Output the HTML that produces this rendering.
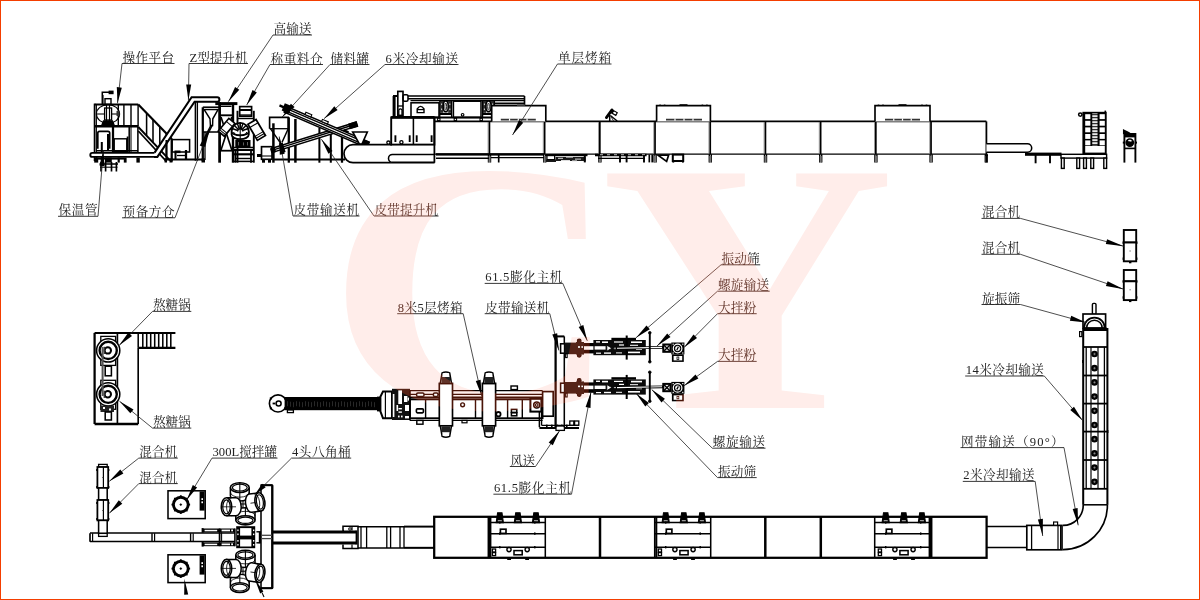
<!DOCTYPE html>
<html lang="zh"><head><meta charset="utf-8"><title>生产线布局图</title>
<style>
html,body{margin:0;padding:0;background:#fff;}
body{width:1200px;height:600px;overflow:hidden;position:relative;}
#frame{position:absolute;left:0;top:0;width:1198px;height:598px;border:1px solid #f43e00;}
svg{position:absolute;left:0;top:0;}
svg text{font-family:"Liberation Serif","Noto Serif CJK SC",serif;fill:#222;}
.wm{font-family:"Liberation Serif",serif;font-weight:bold;font-size:358px;}
</style></head><body>
<svg width="1200" height="600" viewBox="0 0 1200 600">
<g id="wm-under" transform="scale(1.14,1)"><text class="wm" x="286.1" y="408" dx="0 -18.2" style="fill:#ffece9">CY</text></g>
<g id="machines" shape-rendering="auto">
<line x1="94.6" y1="104.4" x2="138.3" y2="104.4" stroke="#000" stroke-width="2.02"/>
<line x1="94.6" y1="103.6" x2="94.6" y2="161" stroke="#000" stroke-width="1.78"/>
<line x1="96.4" y1="104.4" x2="96.4" y2="160" stroke="#000" stroke-width="1.06"/>
<line x1="94.6" y1="126.3" x2="138.3" y2="126.3" stroke="#000" stroke-width="2.5"/>
<line x1="118.3" y1="104.4" x2="118.3" y2="126.3" stroke="#000" stroke-width="1.42"/>
<line x1="123.9" y1="104.4" x2="123.9" y2="126.3" stroke="#000" stroke-width="1.42"/>
<line x1="131" y1="104.4" x2="131" y2="126.3" stroke="#000" stroke-width="1.42"/>
<line x1="138.1" y1="104.4" x2="138.1" y2="126.3" stroke="#000" stroke-width="1.42"/>
<line x1="113" y1="126.3" x2="113" y2="153" stroke="#000" stroke-width="2.26"/>
<line x1="129.2" y1="126.3" x2="129.2" y2="153" stroke="#000" stroke-width="1.54"/>
<line x1="131" y1="126.3" x2="131" y2="153" stroke="#000" stroke-width="1.06"/>
<line x1="137.9" y1="126.3" x2="137.9" y2="153" stroke="#000" stroke-width="1.54"/>
<line x1="138.3" y1="104.6" x2="172" y2="139.31099999999998" stroke="#000" stroke-width="2.14"/>
<line x1="138.3" y1="127" x2="170" y2="160.285" stroke="#000" stroke-width="1.9"/>
<line x1="138.3" y1="131" x2="166.6" y2="161.564" stroke="#000" stroke-width="1.66"/>
<line x1="146.6" y1="113.14899999999997" x2="146.6" y2="135.71499999999997" stroke="#000" stroke-width="1.54"/>
<line x1="153" y1="119.74099999999999" x2="153" y2="142.435" stroke="#000" stroke-width="1.54"/>
<line x1="159.8" y1="126.74499999999999" x2="159.8" y2="149.575" stroke="#000" stroke-width="1.54"/>
<line x1="166.4" y1="133.54299999999998" x2="166.4" y2="156.505" stroke="#000" stroke-width="1.54"/>
<line x1="171.7" y1="139" x2="171.7" y2="161.5" stroke="#000" stroke-width="2.26"/>
<ellipse cx="108" cy="114" rx="11.6" ry="9.4" fill="none" stroke="#000" stroke-width="1.1"/>
<line x1="96.5" y1="114" x2="119.5" y2="114" stroke="#000" stroke-width="1.06"/>
<rect x="104.6" y="108" width="7" height="12" fill="#fff" stroke="#000" stroke-width="1.3"/>
<line x1="106.5" y1="104.4" x2="106.5" y2="122" stroke="#000" stroke-width="1.18"/>
<line x1="109.5" y1="104.4" x2="109.5" y2="122" stroke="#000" stroke-width="1.18"/>
<rect x="105" y="98.7" width="6" height="5.7" fill="none" stroke="#000" stroke-width="1.42"/>
<path d="M103.5,121 L112.5,121 L114.5,126 L101.5,126 Z" fill="#000" stroke="#000" stroke-width="1.3" />
<rect x="116.5" y="111" width="3" height="5" fill="#333"/>
<polyline points="102.3,104.4 102.3,92.3 109,92.3" fill="none" stroke="#000" stroke-width="1.54"/>
<rect x="108.6" y="90.6" width="5" height="3.6" fill="#000"/>
<line x1="103.2" y1="95" x2="103.2" y2="104" stroke="#000" stroke-width="0.82"/>
<path d="M97.8,148.7 L97.8,133 Q97.8,131.3 99.5,131.3 L108,131.3 Q109.7,131.3 109.7,133 L109.7,148.7" fill="none" stroke="#000" stroke-width="1.66" />
<line x1="108" y1="134" x2="108" y2="150" stroke="#000" stroke-width="2.02"/>
<line x1="101.8" y1="142" x2="101.8" y2="160" stroke="#000" stroke-width="2.02"/>
<rect x="114.2" y="138.8" width="12.6" height="12.6" fill="none" stroke="#000" stroke-width="1.42"/>
<line x1="127.6" y1="136.5" x2="127.6" y2="152" stroke="#000" stroke-width="1.78"/>
<line x1="96" y1="150.8" x2="138" y2="150.8" stroke="#000" stroke-width="1.54"/>
<path d="M155.3,152.9 L92.3,152.9 A2,2 0 0 0 92.3,156.9 L155,156.9" fill="#fff" stroke="#000" stroke-width="1.9" />
<rect x="94.2" y="157.6" width="4" height="5" fill="#000"/>
<rect x="100.8" y="157.6" width="3" height="5" fill="#000"/>
<rect x="105" y="157.6" width="6.8" height="5" fill="#000"/>
<rect x="117.6" y="157.6" width="2.2" height="5" fill="#000"/>
<rect x="123.8" y="157.6" width="2.8" height="5" fill="#000"/>
<rect x="136.4" y="157.6" width="3.4" height="5" fill="#000"/>
<line x1="97" y1="158.6" x2="124" y2="158.6" stroke="#000" stroke-width="2.02"/>
<line x1="101" y1="162" x2="101" y2="171.5" stroke="#000" stroke-width="1.66"/>
<line x1="105.6" y1="162" x2="105.6" y2="171.5" stroke="#000" stroke-width="1.66"/>
<line x1="111.5" y1="162" x2="111.5" y2="171.5" stroke="#000" stroke-width="1.66"/>
<line x1="116.4" y1="162" x2="116.4" y2="171.5" stroke="#000" stroke-width="1.66"/>
<line x1="99.5" y1="164" x2="118" y2="164" stroke="#000" stroke-width="1.54"/>
<line x1="100" y1="167.2" x2="117.5" y2="167.2" stroke="#000" stroke-width="1.06"/>
<path d="M154.6,152.6 L191.6,97.3 L217.2,97.3 A2.2,2.2 0 0 1 217.2,101.7 L194.6,101.7 L157.4,156.9 L154,156.9" fill="#fff" stroke="#000" stroke-width="2.02" />
<line x1="195.4" y1="102" x2="195.4" y2="160.7" stroke="#000" stroke-width="1.54"/>
<line x1="197.4" y1="102" x2="197.4" y2="160.7" stroke="#000" stroke-width="1.3"/>
<line x1="202.8" y1="107.3" x2="202.8" y2="161" stroke="#000" stroke-width="2.26"/>
<line x1="202.8" y1="107.3" x2="219.6" y2="107.3" stroke="#000" stroke-width="1.78"/>
<line x1="219.6" y1="102" x2="219.6" y2="162.7" stroke="#000" stroke-width="2.74"/>
<path d="M204.2,109.6 L218,109.6 L212.8,118.8 L212.6,125.5 L210.4,125.5 L210,118.8 Z" fill="none" stroke="#000" stroke-width="1.42" />
<line x1="202.8" y1="132" x2="219.6" y2="132" stroke="#000" stroke-width="1.54"/>
<path d="M211.5,125.5 L201,146" fill="none" stroke="#000" stroke-width="2.74" />
<line x1="205" y1="132" x2="205" y2="160" stroke="#000" stroke-width="1.3"/>
<line x1="164.5" y1="159.6" x2="205" y2="159.6" stroke="#000" stroke-width="2.02"/>
<rect x="164.5" y="158.5" width="2.5" height="4" fill="#000"/>
<rect x="169.5" y="158.5" width="3" height="4" fill="#000"/>
<rect x="201.5" y="158.5" width="3.5" height="4" fill="#000"/>
<line x1="166.5" y1="140" x2="166.5" y2="160" stroke="#000" stroke-width="2.02"/>
<rect x="172" y="139.6" width="17.6" height="12.4" fill="none" stroke="#000" stroke-width="1.54"/>
<rect x="174.5" y="150.5" width="6" height="2.6" fill="#000"/>
<line x1="175.5" y1="152" x2="175.5" y2="159.5" stroke="#000" stroke-width="2.02"/>
<line x1="186" y1="150" x2="186" y2="159.5" stroke="#000" stroke-width="2.26"/>
<line x1="177" y1="155.5" x2="186" y2="155.5" stroke="#000" stroke-width="1.3"/>
<line x1="215.3" y1="103.6" x2="237.4" y2="103.6" stroke="#000" stroke-width="2.98"/>
<line x1="233" y1="104" x2="233" y2="162.7" stroke="#000" stroke-width="2.38"/>
<line x1="221" y1="106.3" x2="231.5" y2="106.3" stroke="#000" stroke-width="1.42"/>
<line x1="219.6" y1="115.3" x2="233" y2="115.3" stroke="#000" stroke-width="1.9"/>
<line x1="221" y1="117" x2="231.8" y2="150" stroke="#000" stroke-width="1.66"/>
<line x1="231.8" y1="117" x2="221" y2="150" stroke="#000" stroke-width="1.66"/>
<line x1="219.6" y1="150.7" x2="233" y2="150.7" stroke="#000" stroke-width="1.78"/>
<rect x="239.7" y="106.6" width="11.9" height="9.6" fill="#fff" stroke="#000" stroke-width="1.66"/>
<line x1="239.7" y1="110" x2="251.6" y2="110" stroke="#000" stroke-width="2.02"/>
<line x1="239.7" y1="115" x2="251.6" y2="115" stroke="#000" stroke-width="1.3"/>
<line x1="237.5" y1="110.8" x2="237.5" y2="162.7" stroke="#000" stroke-width="1.9"/>
<line x1="253.8" y1="110.8" x2="253.8" y2="162.7" stroke="#000" stroke-width="1.9"/>
<line x1="237.5" y1="118.5" x2="253.8" y2="118.5" stroke="#000" stroke-width="1.42"/>
<g transform="rotate(40 226.6 127.3)"><rect x="222.6" y="119" width="8" height="16.6" fill="#fff" stroke="#000" stroke-width="1.7"/><line x1="222.6" y1="123" x2="230.6" y2="123" stroke="#000" stroke-width="1"/><line x1="222.6" y1="131.6" x2="230.6" y2="131.6" stroke="#000" stroke-width="1"/><line x1="222.6" y1="133.6" x2="230.6" y2="133.6" stroke="#000" stroke-width="1"/></g>
<g transform="rotate(-30.5 256.7 129.9)"><rect x="252" y="120.6" width="9.4" height="18.6" fill="#fff" stroke="#000" stroke-width="1.7"/><line x1="252" y1="124.4" x2="261.4" y2="124.4" stroke="#000" stroke-width="1"/><line x1="252" y1="134.6" x2="261.4" y2="134.6" stroke="#000" stroke-width="1"/><line x1="252" y1="136.8" x2="261.4" y2="136.8" stroke="#000" stroke-width="1"/></g>
<path d="M231.6,131.4 A8.6,8.6 0 0 1 248.79999999999998,131.4 L248.79999999999998,134.6 A8.6,4.6 0 0 1 231.6,134.6 Z" fill="#fff" stroke="#000" stroke-width="1.78" />
<path d="M237.6,131.4 A2.6,2.6 0 0 1 242.79999999999998,131.4" fill="none" stroke="#000" stroke-width="1.3" />
<line x1="237.75679918595662" y1="130.51074762735325" x2="232.11864346124116" y2="128.45862676739927" stroke="#000" stroke-width="1.42"/>
<line x1="238.36152236891496" y1="129.56152236891498" x2="234.11888168179567" y2="125.3188816817957" stroke="#000" stroke-width="1.42"/>
<line x1="239.31074762735324" y1="128.95679918595664" x2="237.25862676739925" y2="123.3186434612412" stroke="#000" stroke-width="1.42"/>
<line x1="240.2" y1="128.8" x2="240.2" y2="122.80000000000001" stroke="#000" stroke-width="1.42"/>
<line x1="241.08925237264674" y1="128.95679918595664" x2="243.14137323260076" y2="123.3186434612412" stroke="#000" stroke-width="1.42"/>
<line x1="242.03847763108502" y1="129.56152236891498" x2="246.2811183182043" y2="125.3188816817957" stroke="#000" stroke-width="1.42"/>
<line x1="242.64320081404335" y1="130.51074762735325" x2="248.2813565387588" y2="128.45862676739927" stroke="#000" stroke-width="1.42"/>
<path d="M231.6,131.4 A8.6,4.2 0 0 0 248.79999999999998,131.4" fill="none" stroke="#000" stroke-width="1.54" />
<path d="M233.6,132.0 A6.6,3 0 0 0 246.79999999999998,132.0" fill="none" stroke="#000" stroke-width="1.18" />
<line x1="240.2" y1="122.80000000000001" x2="240.2" y2="139.0" stroke="#000" stroke-width="1.06"/>
<rect x="235.3" y="140" width="15.2" height="7.8" fill="#000"/>
<rect x="238" y="142" width="0.8" height="3.4" fill="#777"/>
<rect x="243" y="142.4" width="0.8" height="3" fill="#777"/>
<rect x="247" y="142" width="0.8" height="3.4" fill="#777"/>
<line x1="233" y1="147.4" x2="253.8" y2="147.4" stroke="#000" stroke-width="1.3"/>
<line x1="232.6" y1="149.9" x2="253.4" y2="149.9" stroke="#000" stroke-width="2.26"/>
<line x1="232.6" y1="154.3" x2="253.4" y2="154.3" stroke="#000" stroke-width="2.14"/>
<line x1="235" y1="158.5" x2="251" y2="158.5" stroke="#000" stroke-width="1.42"/>
<line x1="233" y1="161.4" x2="253" y2="161.4" stroke="#000" stroke-width="1.54"/>
<line x1="235.4" y1="149.9" x2="235.4" y2="162.7" stroke="#000" stroke-width="1.78"/>
<line x1="251" y1="149.9" x2="251" y2="162.7" stroke="#000" stroke-width="1.78"/>
<rect x="261.5" y="146.7" width="10.5" height="12.6" fill="#fff" stroke="#000" stroke-width="1.66"/>
<rect x="257" y="154" width="4.5" height="3" fill="#000"/>
<rect x="262" y="159.3" width="3" height="3.4" fill="#000"/>
<rect x="268" y="159.3" width="3" height="3.4" fill="#000"/>
<line x1="261.5" y1="156" x2="272" y2="156" stroke="#000" stroke-width="1.06"/>
<path d="M269.6,128.7 L269.6,117.3 L288.2,117.3 L288.2,128.7" fill="none" stroke="#000" stroke-width="1.66" />
<path d="M270.4,128.7 L280,142.4 M288.2,128.7 L282,142.4" fill="none" stroke="#000" stroke-width="1.42" />
<line x1="269.6" y1="128.7" x2="288.2" y2="128.7" stroke="#000" stroke-width="1.3"/>
<line x1="273.4" y1="123.3" x2="273.4" y2="162.7" stroke="#000" stroke-width="2.5"/>
<line x1="288.8" y1="117.3" x2="288.8" y2="162.7" stroke="#000" stroke-width="2.26"/>
<line x1="295.4" y1="119" x2="295.4" y2="162.7" stroke="#000" stroke-width="2.5"/>
<line x1="319.4" y1="128" x2="319.4" y2="162.7" stroke="#000" stroke-width="2.02"/>
<line x1="330.8" y1="131" x2="330.8" y2="162.7" stroke="#000" stroke-width="2.02"/>
<line x1="342" y1="130" x2="342" y2="162.7" stroke="#000" stroke-width="2.26"/>
<line x1="273" y1="159.4" x2="345" y2="159.4" stroke="#000" stroke-width="2.02"/>
<g transform="translate(273.5,150) rotate(-17.3)"><rect x="0" y="-2" width="87" height="4" fill="#fff" stroke="#000" stroke-width="1.5"/><line x1="0" y1="-0.2" x2="86" y2="-0.2" stroke="#000" stroke-width="1.4"/><rect x="79" y="-3" width="9" height="6" fill="#000"/><rect x="7" y="-4.5" width="4" height="10" fill="#000"/><rect x="-3" y="-2.4" width="5" height="5" fill="#000"/></g>
<g transform="translate(286,108) rotate(23.3)"><rect x="0" y="-1.6" width="90" height="6.2" fill="#fff" stroke="#000" stroke-width="1.5"/><line x1="4" y1="0.4" x2="90" y2="0.4" stroke="#000" stroke-width="1.3"/><line x1="4" y1="2.8" x2="90" y2="2.8" stroke="#000" stroke-width="1.2"/><rect x="-3" y="-4" width="8" height="8" fill="#000"/><rect x="-7" y="-1" width="6" height="2.4" fill="#000"/><rect x="20" y="-4" width="6.4" height="2.4" fill="#fff" stroke="#000" stroke-width="1.1"/><rect x="38" y="-4" width="6.4" height="2.4" fill="#fff" stroke="#000" stroke-width="1.1"/><rect x="62" y="-3.6" width="5" height="2" fill="#000"/><rect x="84" y="-2" width="6" height="7" fill="#000"/></g>
<path d="M352.7,132 L367.3,132 L362,144 L359.3,144 Z" fill="#fff" stroke="#000" stroke-width="1.66" />
<path d="M392,144.7 L353,144.7 A9,9 0 0 0 353,162.7 L434.6,162.7" fill="#fff" stroke="#000" stroke-width="1.66" />
<path d="M434.6,154.5 L392.4,154.5 A3.9,3.9 0 0 0 392.4,162.3 L434.6,162.3" fill="#fff" stroke="#000" stroke-width="1.54" />
<rect x="391.2" y="117.4" width="43.2" height="27.2" fill="#fff" stroke="#000" stroke-width="1.9"/>
<line x1="391.2" y1="117.4" x2="434.4" y2="117.4" stroke="#000" stroke-width="2.74"/>
<line x1="413.4" y1="117.4" x2="413.4" y2="144.6" stroke="#000" stroke-width="1.54"/>
<line x1="395.4" y1="135.3" x2="395.4" y2="142" stroke="#000" stroke-width="1.9"/>
<line x1="409.7" y1="135.3" x2="409.7" y2="142" stroke="#000" stroke-width="1.9"/>
<line x1="416.7" y1="135.3" x2="416.7" y2="142" stroke="#000" stroke-width="1.9"/>
<line x1="431.6" y1="135.3" x2="431.6" y2="142" stroke="#000" stroke-width="1.9"/>
<circle cx="388.4" cy="142.6" r="1.6" fill="#fff" stroke="#000" stroke-width="1.3"/>
<circle cx="401.4" cy="142.2" r="1.6" fill="#fff" stroke="#000" stroke-width="1.3"/>
<rect x="397.8" y="91.4" width="5.2" height="24" fill="#fff" stroke="#000" stroke-width="1.66"/>
<line x1="397.8" y1="106" x2="403" y2="106" stroke="#000" stroke-width="1.3"/>
<rect x="392.6" y="96" width="3" height="21.4" fill="#000"/>
<line x1="393" y1="96" x2="398" y2="96" stroke="#000" stroke-width="2.02"/>
<rect x="403" y="94.8" width="5" height="6.4" fill="none" stroke="#000" stroke-width="1.54" rx="1.5"/>
<path d="M398.8,115 L398.8,110 Q400.4,107.6 402,110 L402,115" fill="none" stroke="#000" stroke-width="1.3" />
<line x1="408" y1="96" x2="524.5" y2="96" stroke="#000" stroke-width="1.66"/>
<line x1="408" y1="98.7" x2="524.5" y2="98.7" stroke="#000" stroke-width="1.54"/>
<line x1="524.5" y1="96" x2="524.5" y2="105.8" stroke="#000" stroke-width="1.66"/>
<line x1="410.5" y1="100.6" x2="524" y2="100.6" stroke="#000" stroke-width="1.42"/>
<rect x="411" y="102.8" width="28" height="14.6" fill="none" stroke="#000" stroke-width="1.54"/>
<path d="M417.2,112.6 L417.2,109 Q420.6,103.8 424,109 L424,112.6 Z" fill="none" stroke="#000" stroke-width="1.42" />
<line x1="417.2" y1="109.6" x2="424" y2="109.6" stroke="#000" stroke-width="1.18"/>
<rect x="439.8" y="100.2" width="11.8" height="1.6" fill="#000"/>
<rect x="439.8" y="112.8" width="11.8" height="2.2" fill="#000"/>
<rect x="440.2" y="101.8" width="3" height="11" fill="#2a2a2a"/>
<rect x="448.2" y="101.8" width="3" height="11" fill="#2a2a2a"/>
<rect x="441.0" y="103.5" width="1.2" height="1.6" fill="#ccc"/>
<rect x="449.2" y="103.5" width="1.2" height="1.6" fill="#ccc"/>
<rect x="441.0" y="108.5" width="1.2" height="1.6" fill="#ccc"/>
<rect x="449.2" y="108.5" width="1.2" height="1.6" fill="#ccc"/>
<ellipse cx="445.7" cy="106.4" rx="2.5" ry="5.4" fill="#fff" stroke="#000" stroke-width="1.5"/>
<ellipse cx="445.7" cy="106.6" rx="0.9" ry="3.6" fill="none" stroke="#000" stroke-width="0.8"/>
<line x1="439.8" y1="100.2" x2="439.8" y2="117.4" stroke="#000" stroke-width="1.3"/>
<line x1="451.6" y1="100.2" x2="451.6" y2="117.4" stroke="#000" stroke-width="1.3"/>
<rect x="482.6" y="100.2" width="11.8" height="1.6" fill="#000"/>
<rect x="482.6" y="112.8" width="11.8" height="2.2" fill="#000"/>
<rect x="483.0" y="101.8" width="3" height="11" fill="#2a2a2a"/>
<rect x="491.0" y="101.8" width="3" height="11" fill="#2a2a2a"/>
<rect x="483.8" y="103.5" width="1.2" height="1.6" fill="#ccc"/>
<rect x="492.0" y="103.5" width="1.2" height="1.6" fill="#ccc"/>
<rect x="483.8" y="108.5" width="1.2" height="1.6" fill="#ccc"/>
<rect x="492.0" y="108.5" width="1.2" height="1.6" fill="#ccc"/>
<ellipse cx="488.5" cy="106.4" rx="2.5" ry="5.4" fill="#fff" stroke="#000" stroke-width="1.5"/>
<ellipse cx="488.5" cy="106.6" rx="0.9" ry="3.6" fill="none" stroke="#000" stroke-width="0.8"/>
<line x1="482.6" y1="100.2" x2="482.6" y2="117.4" stroke="#000" stroke-width="1.3"/>
<line x1="494.40000000000003" y1="100.2" x2="494.40000000000003" y2="117.4" stroke="#000" stroke-width="1.3"/>
<rect x="453.4" y="101.2" width="27.6" height="16.2" fill="none" stroke="#000" stroke-width="1.54"/>
<circle cx="462.6" cy="114.8" r="1.3" fill="none" stroke="#000" stroke-width="1.18"/>
<line x1="495" y1="103.4" x2="524.5" y2="103.4" stroke="#000" stroke-width="1.78"/>
<line x1="434.4" y1="117.4" x2="491.7" y2="117.4" stroke="#000" stroke-width="2.02"/>
<rect x="437.6" y="118.2" width="2.4" height="2.4" fill="none" stroke="#000" stroke-width="1.06"/>
<rect x="454.2" y="118.2" width="2.4" height="2.4" fill="none" stroke="#000" stroke-width="1.06"/>
<rect x="480" y="118.2" width="2.4" height="2.4" fill="none" stroke="#000" stroke-width="1.06"/>
<line x1="434.2" y1="121.4" x2="986.4" y2="121.4" stroke="#000" stroke-width="1.9"/>
<line x1="434.2" y1="154.1" x2="986.4" y2="154.1" stroke="#000" stroke-width="1.42"/>
<line x1="489.4" y1="121.4" x2="489.4" y2="154.2" stroke="#000" stroke-width="1.78"/>
<line x1="488.09999999999997" y1="122" x2="488.09999999999997" y2="154" stroke="#777" stroke-width="0.7"/>
<line x1="488.5" y1="154.2" x2="488.5" y2="162.5" stroke="#000" stroke-width="1.42"/>
<line x1="490.5" y1="154.2" x2="490.5" y2="162.5" stroke="#000" stroke-width="1.42"/>
<rect x="488.5" y="156" width="2" height="6.5" fill="#777"/>
<line x1="544.6" y1="121.4" x2="544.6" y2="154.2" stroke="#000" stroke-width="1.78"/>
<line x1="543.3000000000001" y1="122" x2="543.3000000000001" y2="154" stroke="#777" stroke-width="0.7"/>
<line x1="543.7" y1="154.2" x2="543.7" y2="162.5" stroke="#000" stroke-width="1.42"/>
<line x1="545.7" y1="154.2" x2="545.7" y2="162.5" stroke="#000" stroke-width="1.42"/>
<rect x="543.7" y="156" width="2" height="6.5" fill="#777"/>
<line x1="599.8" y1="121.4" x2="599.8" y2="154.2" stroke="#000" stroke-width="1.78"/>
<line x1="598.5" y1="122" x2="598.5" y2="154" stroke="#777" stroke-width="0.7"/>
<line x1="598.9" y1="154.2" x2="598.9" y2="162.5" stroke="#000" stroke-width="1.42"/>
<line x1="600.9" y1="154.2" x2="600.9" y2="162.5" stroke="#000" stroke-width="1.42"/>
<rect x="598.9" y="156" width="2" height="6.5" fill="#777"/>
<line x1="655.0" y1="121.4" x2="655.0" y2="154.2" stroke="#000" stroke-width="1.78"/>
<line x1="653.7" y1="122" x2="653.7" y2="154" stroke="#777" stroke-width="0.7"/>
<line x1="654.1" y1="154.2" x2="654.1" y2="162.5" stroke="#000" stroke-width="1.42"/>
<line x1="656.1" y1="154.2" x2="656.1" y2="162.5" stroke="#000" stroke-width="1.42"/>
<rect x="654.1" y="156" width="2" height="6.5" fill="#777"/>
<line x1="710.2" y1="121.4" x2="710.2" y2="154.2" stroke="#000" stroke-width="1.78"/>
<line x1="708.9000000000001" y1="122" x2="708.9000000000001" y2="154" stroke="#777" stroke-width="0.7"/>
<line x1="709.3000000000001" y1="154.2" x2="709.3000000000001" y2="162.5" stroke="#000" stroke-width="1.42"/>
<line x1="711.3000000000001" y1="154.2" x2="711.3000000000001" y2="162.5" stroke="#000" stroke-width="1.42"/>
<rect x="709.3000000000001" y="156" width="2" height="6.5" fill="#777"/>
<line x1="765.4000000000001" y1="121.4" x2="765.4000000000001" y2="154.2" stroke="#000" stroke-width="1.78"/>
<line x1="764.1000000000001" y1="122" x2="764.1000000000001" y2="154" stroke="#777" stroke-width="0.7"/>
<line x1="764.5000000000001" y1="154.2" x2="764.5000000000001" y2="162.5" stroke="#000" stroke-width="1.42"/>
<line x1="766.5000000000001" y1="154.2" x2="766.5000000000001" y2="162.5" stroke="#000" stroke-width="1.42"/>
<rect x="764.5000000000001" y="156" width="2" height="6.5" fill="#777"/>
<line x1="820.6" y1="121.4" x2="820.6" y2="154.2" stroke="#000" stroke-width="1.78"/>
<line x1="819.3000000000001" y1="122" x2="819.3000000000001" y2="154" stroke="#777" stroke-width="0.7"/>
<line x1="819.7" y1="154.2" x2="819.7" y2="162.5" stroke="#000" stroke-width="1.42"/>
<line x1="821.7" y1="154.2" x2="821.7" y2="162.5" stroke="#000" stroke-width="1.42"/>
<rect x="819.7" y="156" width="2" height="6.5" fill="#777"/>
<line x1="875.8" y1="121.4" x2="875.8" y2="154.2" stroke="#000" stroke-width="1.78"/>
<line x1="874.5" y1="122" x2="874.5" y2="154" stroke="#777" stroke-width="0.7"/>
<line x1="874.9" y1="154.2" x2="874.9" y2="162.5" stroke="#000" stroke-width="1.42"/>
<line x1="876.9" y1="154.2" x2="876.9" y2="162.5" stroke="#000" stroke-width="1.42"/>
<rect x="874.9" y="156" width="2" height="6.5" fill="#777"/>
<line x1="931.0" y1="121.4" x2="931.0" y2="154.2" stroke="#000" stroke-width="1.78"/>
<line x1="929.7" y1="122" x2="929.7" y2="154" stroke="#777" stroke-width="0.7"/>
<line x1="930.1" y1="154.2" x2="930.1" y2="162.5" stroke="#000" stroke-width="1.42"/>
<line x1="932.1" y1="154.2" x2="932.1" y2="162.5" stroke="#000" stroke-width="1.42"/>
<rect x="930.1" y="156" width="2" height="6.5" fill="#777"/>
<line x1="985.3000000000001" y1="154.2" x2="985.3000000000001" y2="162.5" stroke="#000" stroke-width="1.42"/>
<line x1="987.3000000000001" y1="154.2" x2="987.3000000000001" y2="162.5" stroke="#000" stroke-width="1.42"/>
<rect x="985.3000000000001" y="156" width="2" height="6.5" fill="#777"/>
<line x1="434.4" y1="117" x2="434.4" y2="162.7" stroke="#000" stroke-width="1.78"/>
<line x1="986.4" y1="121.4" x2="986.4" y2="162.5" stroke="#000" stroke-width="1.78"/>
<rect x="436" y="153.2" width="108" height="2.4" fill="#000"/>
<line x1="436" y1="158.3" x2="489" y2="158.3" stroke="#000" stroke-width="1.42"/>
<line x1="491" y1="157.6" x2="544" y2="157.6" stroke="#000" stroke-width="1.3"/>
<line x1="498.7" y1="155" x2="498.7" y2="162.5" stroke="#000" stroke-width="1.66"/>
<path d="M491.7,121.4 L491.7,105.6 L545.8,105.6 L545.8,121.4" fill="#fff" stroke="#000" stroke-width="1.66" />
<line x1="500.8" y1="119.6" x2="535.8" y2="119.6" stroke="#333" stroke-width="1.66"/>
<rect x="508.95" y="118.4" width="1.2" height="2.4" fill="#fff"/>
<rect x="517.6999999999999" y="118.4" width="1.2" height="2.4" fill="#fff"/>
<rect x="526.4499999999999" y="118.4" width="1.2" height="2.4" fill="#fff"/>
<path d="M656.6,121.4 L656.6,105.6 L710.4,105.6 L710.4,121.4" fill="#fff" stroke="#000" stroke-width="1.66" />
<line x1="666" y1="119.6" x2="702" y2="119.6" stroke="#333" stroke-width="1.66"/>
<rect x="674.4" y="118.4" width="1.2" height="2.4" fill="#fff"/>
<rect x="683.4" y="118.4" width="1.2" height="2.4" fill="#fff"/>
<rect x="692.4" y="118.4" width="1.2" height="2.4" fill="#fff"/>
<rect x="679.5" y="104.2" width="8" height="1.6" fill="#000"/>
<rect x="659.3000000000001" y="104.6" width="1.6" height="1.2" fill="#000"/>
<rect x="663.8000000000001" y="104.6" width="1.6" height="1.2" fill="#000"/>
<rect x="701.6" y="104.6" width="1.6" height="1.2" fill="#000"/>
<rect x="706.1" y="104.6" width="1.6" height="1.2" fill="#000"/>
<path d="M875,121.4 L875,105.6 L930,105.6 L930,121.4" fill="#fff" stroke="#000" stroke-width="1.66" />
<line x1="885" y1="119.6" x2="920" y2="119.6" stroke="#333" stroke-width="1.66"/>
<rect x="893.15" y="118.4" width="1.2" height="2.4" fill="#fff"/>
<rect x="901.9" y="118.4" width="1.2" height="2.4" fill="#fff"/>
<rect x="910.65" y="118.4" width="1.2" height="2.4" fill="#fff"/>
<rect x="898.5" y="104.2" width="8" height="1.6" fill="#000"/>
<rect x="877.7" y="104.6" width="1.6" height="1.2" fill="#000"/>
<rect x="882.2" y="104.6" width="1.6" height="1.2" fill="#000"/>
<rect x="921.2" y="104.6" width="1.6" height="1.2" fill="#000"/>
<rect x="925.7" y="104.6" width="1.6" height="1.2" fill="#000"/>
<rect x="517" y="104.4" width="8" height="1.4" fill="#444"/>
<line x1="606.4" y1="117.6" x2="612" y2="109.9" stroke="#000" stroke-width="2.8" stroke-linecap="round"/>
<polygon points="611.4,108.8 618,112.4 616,116.2 609.6,112.6" fill="#000"/>
<g transform="rotate(28 614.7 112.9)"><rect x="613.2" y="112" width="3.2" height="1.9" rx="0.8" fill="#fff"/></g>
<line x1="610.4" y1="115.6" x2="617.2" y2="121" stroke="#000" stroke-width="1.3"/>
<line x1="609.7" y1="115" x2="609.7" y2="121" stroke="#000" stroke-width="1.5"/>
<line x1="611" y1="116.6" x2="613.6" y2="121" stroke="#222" stroke-width="0.9"/>
<rect x="546" y="154" width="41.5" height="2.2" fill="#000"/>
<rect x="555.5" y="157" width="30" height="4" fill="#1a1a1a"/>
<rect x="546" y="159.6" width="10" height="2.4" fill="#1a1a1a"/>
<rect x="547" y="155.6" width="7.6" height="4" fill="#fff" stroke="#000" stroke-width="1.18"/>
<rect x="558" y="157.8" width="5" height="1" fill="#ddd"/>
<rect x="566" y="156.6" width="7" height="1" fill="#ddd"/>
<rect x="575" y="158.6" width="6" height="1" fill="#ddd"/>
<rect x="561" y="160" width="9" height="1" fill="#ddd"/>
<rect x="572" y="160.4" width="5" height="1" fill="#ddd"/>
<line x1="584.8" y1="156" x2="584.8" y2="162.4" stroke="#000" stroke-width="2.02"/>
<line x1="595" y1="155" x2="646.6" y2="155" stroke="#000" stroke-width="2.5"/>
<rect x="600" y="154.3" width="3" height="0.9" fill="#ccc"/>
<rect x="607" y="154.3" width="3" height="0.9" fill="#ccc"/>
<rect x="614" y="154.3" width="3" height="0.9" fill="#ccc"/>
<rect x="621" y="154.3" width="3" height="0.9" fill="#ccc"/>
<rect x="628" y="154.3" width="3" height="0.9" fill="#ccc"/>
<rect x="635" y="154.3" width="3" height="0.9" fill="#ccc"/>
<rect x="642" y="154.3" width="3" height="0.9" fill="#ccc"/>
<line x1="598" y1="158.3" x2="645" y2="158.3" stroke="#000" stroke-width="1.3"/>
<line x1="620" y1="155" x2="620" y2="162.4" stroke="#000" stroke-width="1.9"/>
<line x1="626.6" y1="155" x2="626.6" y2="162.4" stroke="#000" stroke-width="1.9"/>
<line x1="644" y1="155" x2="644" y2="162.4" stroke="#000" stroke-width="1.9"/>
<line x1="649.3" y1="154.5" x2="649.3" y2="162.4" stroke="#000" stroke-width="1.66"/>
<line x1="652.2" y1="154.5" x2="652.2" y2="162.4" stroke="#000" stroke-width="1.66"/>
<path d="M658,155.2 L668.6,155.2 L666.6,161.4 Z" fill="none" stroke="#000" stroke-width="1.78" />
<rect x="672.8" y="154.6" width="10.4" height="6.4" fill="none" stroke="#000" stroke-width="2.02"/>
<rect x="672.4" y="160.6" width="1.8" height="2" fill="#000"/>
<rect x="682" y="160.6" width="1.8" height="2" fill="#000"/>
<path d="M986.4,143.7 L1027.4,143.7 A4.3,4.3 0 0 1 1027.4,152.3 L986.4,152.3" fill="#fff" stroke="#000" stroke-width="1.54" />
<rect x="1025" y="152.6" width="36.5" height="3.2" fill="#000"/>
<line x1="1035.6" y1="155" x2="1035.6" y2="163.3" stroke="#000" stroke-width="1.9"/>
<line x1="1050" y1="155" x2="1050" y2="163.3" stroke="#000" stroke-width="1.9"/>
<rect x="1061" y="154.3" width="45.6" height="3.8" fill="#fff" stroke="#000" stroke-width="1.42"/>
<rect x="1061.4" y="158.1" width="2.8" height="10.3" fill="#fff" stroke="#000" stroke-width="1.42"/>
<rect x="1076.8" y="158.1" width="2.8" height="10.3" fill="#fff" stroke="#000" stroke-width="1.42"/>
<rect x="1083.6" y="158.1" width="2.8" height="10.3" fill="#fff" stroke="#000" stroke-width="1.42"/>
<rect x="1090.8" y="158.1" width="2.8" height="10.3" fill="#fff" stroke="#000" stroke-width="1.42"/>
<rect x="1103.8" y="158.1" width="2.8" height="10.3" fill="#fff" stroke="#000" stroke-width="1.42"/>
<rect x="1082.4" y="111.8" width="24.3" height="42.5" fill="#000"/>
<rect x="1085.2" y="114.2" width="5.2" height="4.9" fill="#fff"/>
<rect x="1099.6" y="114.2" width="5.2" height="4.9" fill="#fff"/>
<rect x="1085.2" y="120.8" width="5.2" height="4.9" fill="#fff"/>
<rect x="1099.6" y="120.8" width="5.2" height="4.9" fill="#fff"/>
<rect x="1085.2" y="127.4" width="5.2" height="4.9" fill="#fff"/>
<rect x="1099.6" y="127.4" width="5.2" height="4.9" fill="#fff"/>
<rect x="1085.2" y="134" width="5.2" height="4.9" fill="#fff"/>
<rect x="1099.6" y="134" width="5.2" height="4.9" fill="#fff"/>
<rect x="1085.2" y="140.4" width="5.2" height="4.9" fill="#fff"/>
<rect x="1099.6" y="140.4" width="5.2" height="4.9" fill="#fff"/>
<rect x="1085.2" y="146" width="19.6" height="6.6" fill="#fff"/>
<rect x="1091.8" y="113.4" width="6.2" height="32" fill="#fff"/>
<line x1="1092" y1="114.6" x2="1098" y2="114.6" stroke="#333" stroke-width="1.42"/>
<line x1="1092" y1="117.6" x2="1098" y2="117.6" stroke="#333" stroke-width="1.42"/>
<line x1="1092" y1="120.6" x2="1098" y2="120.6" stroke="#333" stroke-width="1.42"/>
<line x1="1092" y1="123.6" x2="1098" y2="123.6" stroke="#333" stroke-width="1.42"/>
<line x1="1092" y1="126.6" x2="1098" y2="126.6" stroke="#333" stroke-width="1.42"/>
<line x1="1092" y1="129.6" x2="1098" y2="129.6" stroke="#333" stroke-width="1.42"/>
<line x1="1092" y1="132.6" x2="1098" y2="132.6" stroke="#333" stroke-width="1.42"/>
<line x1="1092" y1="135.6" x2="1098" y2="135.6" stroke="#333" stroke-width="1.42"/>
<line x1="1092" y1="138.6" x2="1098" y2="138.6" stroke="#333" stroke-width="1.42"/>
<line x1="1092" y1="141.6" x2="1098" y2="141.6" stroke="#333" stroke-width="1.42"/>
<line x1="1092" y1="144.6" x2="1098" y2="144.6" stroke="#333" stroke-width="1.42"/>
<line x1="1091.6" y1="113" x2="1091.6" y2="146" stroke="#000" stroke-width="1.3"/>
<line x1="1098.2" y1="113" x2="1098.2" y2="146" stroke="#000" stroke-width="1.3"/>
<circle cx="1080.3" cy="114.6" r="1.7" fill="none" stroke="#000" stroke-width="1.54"/>
<rect x="1104.5" y="110.6" width="1.6" height="2" fill="#000"/>
<line x1="1124.4" y1="133" x2="1124.4" y2="162.6" stroke="#000" stroke-width="1.9"/>
<line x1="1135.4" y1="133" x2="1135.4" y2="162.6" stroke="#000" stroke-width="1.9"/>
<rect x="1124.4" y="133" width="11" height="4.4" fill="#000"/>
<path d="M1123.6,133.4 L1123.6,130 L1128.5,132.4 Z" fill="#000" stroke="#000" stroke-width="1.3" />
<line x1="1124.4" y1="148.4" x2="1135.4" y2="148.4" stroke="#000" stroke-width="1.66"/>
<circle cx="1129.8" cy="142.6" r="3.4" fill="#000" stroke="#000" stroke-width="2.02"/>
<path d="M1128.4,141 A2,2 0 0 1 1131.4,141.4" fill="none" stroke="#fff" stroke-width="1.3" />
<rect x="1122.8" y="141.6" width="2" height="2" fill="#000"/>
<rect x="1135" y="141.6" width="2" height="2" fill="#000"/>
<rect x="1123.8" y="230" width="12.4" height="12.5" fill="#fff" stroke="#000" stroke-width="1.9"/>
<rect x="1123.8" y="242.5" width="12.4" height="18.8" fill="#fff" stroke="#000" stroke-width="1.9"/>
<rect x="1129" y="261.3" width="2.4" height="2" fill="#000"/>
<rect x="1129.6" y="250.5" width="1" height="1" fill="#444"/>
<rect x="1122.6" y="241.5" width="1.4" height="2.4" fill="#000"/>
<rect x="1136" y="241.5" width="1.4" height="2.4" fill="#000"/>
<rect x="1122.6" y="257.5" width="1.4" height="2.4" fill="#000"/>
<rect x="1136" y="257.5" width="1.4" height="2.4" fill="#000"/>
<rect x="1123.8" y="270" width="12.4" height="11.3" fill="#fff" stroke="#000" stroke-width="1.9"/>
<rect x="1123.8" y="281.3" width="12.4" height="18.8" fill="#fff" stroke="#000" stroke-width="1.9"/>
<rect x="1129" y="300.1" width="2.4" height="2" fill="#000"/>
<rect x="1129.6" y="289.3" width="1" height="1" fill="#444"/>
<rect x="1122.6" y="280.3" width="1.4" height="2.4" fill="#000"/>
<rect x="1136" y="280.3" width="1.4" height="2.4" fill="#000"/>
<rect x="1122.6" y="296.3" width="1.4" height="2.4" fill="#000"/>
<rect x="1136" y="296.3" width="1.4" height="2.4" fill="#000"/>
<rect x="1092.4" y="303.4" width="3.6" height="11" fill="#fff" stroke="#000" stroke-width="1.42" rx="1.2"/>
<rect x="1083" y="314" width="22.6" height="14" fill="#fff" stroke="#000" stroke-width="1.66"/>
<path d="M1084,328 A10.4,10.4 0 0 1 1104.8,328" fill="none" stroke="#000" stroke-width="1.78" />
<path d="M1086.6,328 A7.8,7.8 0 0 1 1102.2,328" fill="none" stroke="#000" stroke-width="1.54" />
<rect x="1083" y="327.6" width="24" height="3.4" fill="#000"/>
<rect x="1079.6" y="331.6" width="2.2" height="5" fill="none" stroke="#000" stroke-width="1.18"/>
<line x1="1083.2" y1="328" x2="1083.2" y2="504.8" stroke="#000" stroke-width="2.02"/>
<line x1="1107.4" y1="328" x2="1107.4" y2="504.8" stroke="#000" stroke-width="2.02"/>
<line x1="1086.2" y1="347" x2="1086.2" y2="488.8" stroke="#000" stroke-width="1.3"/>
<line x1="1104.4" y1="347" x2="1104.4" y2="488.8" stroke="#000" stroke-width="1.3"/>
<line x1="1091" y1="347" x2="1091" y2="488.8" stroke="#000" stroke-width="1.18"/>
<line x1="1098" y1="347" x2="1098" y2="488.8" stroke="#000" stroke-width="1.18"/>
<line x1="1083.2" y1="347" x2="1107.4" y2="347" stroke="#000" stroke-width="1.78"/>
<line x1="1083.2" y1="375.5" x2="1107.4" y2="375.5" stroke="#000" stroke-width="1.78"/>
<line x1="1083.2" y1="403.6" x2="1107.4" y2="403.6" stroke="#000" stroke-width="1.78"/>
<line x1="1083.2" y1="431.6" x2="1107.4" y2="431.6" stroke="#000" stroke-width="1.78"/>
<line x1="1083.2" y1="460" x2="1107.4" y2="460" stroke="#000" stroke-width="1.78"/>
<line x1="1083.2" y1="488.8" x2="1107.4" y2="488.8" stroke="#000" stroke-width="1.78"/>
<circle cx="1094.5" cy="354.0" r="2.5" fill="#111" stroke="#000" stroke-width="1.66"/>
<circle cx="1094.5" cy="354.0" r="0.7" fill="#888" stroke="#888" stroke-width="0.58"/>
<circle cx="1094.5" cy="368.2" r="2.5" fill="#111" stroke="#000" stroke-width="1.66"/>
<circle cx="1094.5" cy="368.2" r="0.7" fill="#888" stroke="#888" stroke-width="0.58"/>
<circle cx="1094.5" cy="382.4" r="2.5" fill="#111" stroke="#000" stroke-width="1.66"/>
<circle cx="1094.5" cy="382.4" r="0.7" fill="#888" stroke="#888" stroke-width="0.58"/>
<circle cx="1094.5" cy="396.6" r="2.5" fill="#111" stroke="#000" stroke-width="1.66"/>
<circle cx="1094.5" cy="396.6" r="0.7" fill="#888" stroke="#888" stroke-width="0.58"/>
<circle cx="1094.5" cy="410.8" r="2.5" fill="#111" stroke="#000" stroke-width="1.66"/>
<circle cx="1094.5" cy="410.8" r="0.7" fill="#888" stroke="#888" stroke-width="0.58"/>
<circle cx="1094.5" cy="425.0" r="2.5" fill="#111" stroke="#000" stroke-width="1.66"/>
<circle cx="1094.5" cy="425.0" r="0.7" fill="#888" stroke="#888" stroke-width="0.58"/>
<circle cx="1094.5" cy="439.2" r="2.5" fill="#111" stroke="#000" stroke-width="1.66"/>
<circle cx="1094.5" cy="439.2" r="0.7" fill="#888" stroke="#888" stroke-width="0.58"/>
<circle cx="1094.5" cy="453.4" r="2.5" fill="#111" stroke="#000" stroke-width="1.66"/>
<circle cx="1094.5" cy="453.4" r="0.7" fill="#888" stroke="#888" stroke-width="0.58"/>
<circle cx="1094.5" cy="467.6" r="2.5" fill="#111" stroke="#000" stroke-width="1.66"/>
<circle cx="1094.5" cy="467.6" r="0.7" fill="#888" stroke="#888" stroke-width="0.58"/>
<circle cx="1094.5" cy="481.8" r="2.5" fill="#111" stroke="#000" stroke-width="1.66"/>
<circle cx="1094.5" cy="481.8" r="0.7" fill="#888" stroke="#888" stroke-width="0.58"/>
<line x1="1083.2" y1="504.8" x2="1107.4" y2="504.8" stroke="#000" stroke-width="1.54"/>
<rect x="1107.4" y="430" width="1" height="3" fill="#000"/>
<rect x="1082" y="360" width="1" height="3" fill="#000"/>
<path d="M1107.4,504.8 A44.4,44.4 0 0 1 1063,549.6" fill="none" stroke="#000" stroke-width="1.66" />
<path d="M1083.2,504.8 A20.2,20.2 0 0 1 1063,525.4" fill="none" stroke="#000" stroke-width="1.66" />
<rect x="1026.8" y="525.4" width="35.2" height="24.4" fill="#fff" stroke="#000" stroke-width="1.66"/>
<line x1="1031.6" y1="525.4" x2="1031.6" y2="549.8" stroke="#000" stroke-width="1.3"/>
<line x1="1058" y1="525.4" x2="1058" y2="549.8" stroke="#000" stroke-width="1.18"/>
<line x1="1060.6" y1="525.4" x2="1060.6" y2="549.8" stroke="#000" stroke-width="1.18"/>
<rect x="1053.6" y="522" width="4" height="3.2" fill="#fff" stroke="#000" stroke-width="1.18"/>
<line x1="986.6" y1="526.4" x2="1026.8" y2="526.4" stroke="#000" stroke-width="1.54"/>
<line x1="986.6" y1="547.6" x2="1026.8" y2="547.6" stroke="#000" stroke-width="1.54"/>
<rect x="434.2" y="516.8" width="552.4" height="41" fill="#fff" stroke="#000" stroke-width="2.26"/>
<line x1="488.8" y1="516.8" x2="488.8" y2="557.8" stroke="#000" stroke-width="2.5"/>
<line x1="600" y1="516.8" x2="600" y2="557.8" stroke="#000" stroke-width="2.5"/>
<line x1="765.3" y1="516.8" x2="765.3" y2="557.8" stroke="#000" stroke-width="2.5"/>
<line x1="820.8" y1="516.8" x2="820.8" y2="557.8" stroke="#000" stroke-width="2.5"/>
<line x1="931.2" y1="516.8" x2="931.2" y2="557.8" stroke="#000" stroke-width="2.5"/>
<line x1="545.3" y1="516.8" x2="545.3" y2="557.8" stroke="#000" stroke-width="1.54"/>
<line x1="710.7" y1="516.8" x2="710.7" y2="557.8" stroke="#000" stroke-width="1.54"/>
<line x1="654.7" y1="516.8" x2="654.7" y2="557.8" stroke="#000" stroke-width="1.54"/>
<line x1="874.7" y1="516.8" x2="874.7" y2="557.8" stroke="#000" stroke-width="1.54"/>
<line x1="488.8" y1="522.6" x2="545.3" y2="522.6" stroke="#000" stroke-width="1.54"/>
<line x1="488.8" y1="533.7" x2="545.3" y2="533.7" stroke="#000" stroke-width="1.42"/>
<line x1="488.8" y1="547.3" x2="545.3" y2="547.3" stroke="#000" stroke-width="1.42"/>
<line x1="490.40000000000003" y1="516.8" x2="490.40000000000003" y2="557.8" stroke="#000" stroke-width="2.02"/>
<path d="M496.2,522.6 L497.6,512.8 L502.0,512.8 L503.40000000000003,522.6 Z" fill="#000" stroke="#000" stroke-width="1.06" />
<rect x="497.8" y="520" width="4" height="1.3" fill="#999"/>
<path d="M514.3,522.6 L515.6999999999999,512.8 L520.1,512.8 L521.5,522.6 Z" fill="#000" stroke="#000" stroke-width="1.06" />
<rect x="515.9" y="520" width="4" height="1.3" fill="#999"/>
<path d="M532.4,522.6 L533.8,512.8 L538.2,512.8 L539.6,522.6 Z" fill="#000" stroke="#000" stroke-width="1.06" />
<rect x="534.0" y="520" width="4" height="1.3" fill="#999"/>
<rect x="500.40000000000003" y="529.2" width="5.6" height="4.2" fill="#fff" stroke="#000" stroke-width="1.66"/>
<circle cx="509.0" cy="549.6" r="2.1" fill="#fff" stroke="#000" stroke-width="1.42"/>
<circle cx="527.2" cy="549.6" r="2.1" fill="#fff" stroke="#000" stroke-width="1.42"/>
<rect x="514.0" y="550.6" width="8.2" height="4.2" fill="#fff" stroke="#000" stroke-width="1.54"/>
<rect x="492.40000000000003" y="549" width="3.2" height="3" fill="none" stroke="#000" stroke-width="1.3"/>
<rect x="492.40000000000003" y="552.6" width="3.2" height="3" fill="none" stroke="#000" stroke-width="1.3"/>
<rect x="507.2" y="558.4" width="3.8" height="1.6" fill="#000"/>
<rect x="525.2" y="558.4" width="3.8" height="1.6" fill="#000"/>
<rect x="499.1" y="532.4" width="1.4" height="2.4" fill="#000"/>
<rect x="499.1" y="546" width="1.4" height="2.4" fill="#000"/>
<rect x="499.1" y="521.6" width="1.4" height="2" fill="#000"/>
<rect x="534.0999999999999" y="532.4" width="1.4" height="2.4" fill="#000"/>
<rect x="534.0999999999999" y="546" width="1.4" height="2.4" fill="#000"/>
<rect x="534.0999999999999" y="521.6" width="1.4" height="2" fill="#000"/>
<line x1="654.7" y1="522.6" x2="710.7" y2="522.6" stroke="#000" stroke-width="1.54"/>
<line x1="654.7" y1="533.7" x2="710.7" y2="533.7" stroke="#000" stroke-width="1.42"/>
<line x1="654.7" y1="547.3" x2="710.7" y2="547.3" stroke="#000" stroke-width="1.42"/>
<line x1="656.3000000000001" y1="516.8" x2="656.3000000000001" y2="557.8" stroke="#000" stroke-width="2.02"/>
<path d="M662.1,522.6 L663.5,512.8 L667.9000000000001,512.8 L669.3000000000001,522.6 Z" fill="#000" stroke="#000" stroke-width="1.06" />
<rect x="663.7" y="520" width="4" height="1.3" fill="#999"/>
<path d="M680.2,522.6 L681.6,512.8 L686.0000000000001,512.8 L687.4000000000001,522.6 Z" fill="#000" stroke="#000" stroke-width="1.06" />
<rect x="681.8000000000001" y="520" width="4" height="1.3" fill="#999"/>
<path d="M698.3000000000001,522.6 L699.7,512.8 L704.1000000000001,512.8 L705.5000000000001,522.6 Z" fill="#000" stroke="#000" stroke-width="1.06" />
<rect x="699.9000000000001" y="520" width="4" height="1.3" fill="#999"/>
<rect x="666.3000000000001" y="529.2" width="5.6" height="4.2" fill="#fff" stroke="#000" stroke-width="1.66"/>
<circle cx="674.9000000000001" cy="549.6" r="2.1" fill="#fff" stroke="#000" stroke-width="1.42"/>
<circle cx="693.1" cy="549.6" r="2.1" fill="#fff" stroke="#000" stroke-width="1.42"/>
<rect x="679.9000000000001" y="550.6" width="8.2" height="4.2" fill="#fff" stroke="#000" stroke-width="1.54"/>
<rect x="658.3000000000001" y="549" width="3.2" height="3" fill="none" stroke="#000" stroke-width="1.3"/>
<rect x="658.3000000000001" y="552.6" width="3.2" height="3" fill="none" stroke="#000" stroke-width="1.3"/>
<rect x="673.1" y="558.4" width="3.8" height="1.6" fill="#000"/>
<rect x="691.1" y="558.4" width="3.8" height="1.6" fill="#000"/>
<rect x="665.0" y="532.4" width="1.4" height="2.4" fill="#000"/>
<rect x="665.0" y="546" width="1.4" height="2.4" fill="#000"/>
<rect x="665.0" y="521.6" width="1.4" height="2" fill="#000"/>
<rect x="699.5" y="532.4" width="1.4" height="2.4" fill="#000"/>
<rect x="699.5" y="546" width="1.4" height="2.4" fill="#000"/>
<rect x="699.5" y="521.6" width="1.4" height="2" fill="#000"/>
<line x1="874.7" y1="522.6" x2="931.2" y2="522.6" stroke="#000" stroke-width="1.54"/>
<line x1="874.7" y1="533.7" x2="931.2" y2="533.7" stroke="#000" stroke-width="1.42"/>
<line x1="874.7" y1="547.3" x2="931.2" y2="547.3" stroke="#000" stroke-width="1.42"/>
<line x1="929.6" y1="516.8" x2="929.6" y2="557.8" stroke="#000" stroke-width="2.02"/>
<path d="M882.1,522.6 L883.5,512.8 L887.9000000000001,512.8 L889.3000000000001,522.6 Z" fill="#000" stroke="#000" stroke-width="1.06" />
<rect x="883.7" y="520" width="4" height="1.3" fill="#999"/>
<path d="M900.2,522.6 L901.6,512.8 L906.0000000000001,512.8 L907.4000000000001,522.6 Z" fill="#000" stroke="#000" stroke-width="1.06" />
<rect x="901.8000000000001" y="520" width="4" height="1.3" fill="#999"/>
<path d="M918.3000000000001,522.6 L919.7,512.8 L924.1000000000001,512.8 L925.5000000000001,522.6 Z" fill="#000" stroke="#000" stroke-width="1.06" />
<rect x="919.9000000000001" y="520" width="4" height="1.3" fill="#999"/>
<rect x="886.3000000000001" y="529.2" width="5.6" height="4.2" fill="#fff" stroke="#000" stroke-width="1.66"/>
<circle cx="894.9000000000001" cy="549.6" r="2.1" fill="#fff" stroke="#000" stroke-width="1.42"/>
<circle cx="913.1" cy="549.6" r="2.1" fill="#fff" stroke="#000" stroke-width="1.42"/>
<rect x="899.9000000000001" y="550.6" width="8.2" height="4.2" fill="#fff" stroke="#000" stroke-width="1.54"/>
<rect x="878.3000000000001" y="549" width="3.2" height="3" fill="none" stroke="#000" stroke-width="1.3"/>
<rect x="878.3000000000001" y="552.6" width="3.2" height="3" fill="none" stroke="#000" stroke-width="1.3"/>
<rect x="893.1" y="558.4" width="3.8" height="1.6" fill="#000"/>
<rect x="911.1" y="558.4" width="3.8" height="1.6" fill="#000"/>
<rect x="885.0" y="532.4" width="1.4" height="2.4" fill="#000"/>
<rect x="885.0" y="546" width="1.4" height="2.4" fill="#000"/>
<rect x="885.0" y="521.6" width="1.4" height="2" fill="#000"/>
<rect x="920.0" y="532.4" width="1.4" height="2.4" fill="#000"/>
<rect x="920.0" y="546" width="1.4" height="2.4" fill="#000"/>
<rect x="920.0" y="521.6" width="1.4" height="2" fill="#000"/>
<line x1="404" y1="526.4" x2="434.2" y2="526.4" stroke="#000" stroke-width="1.54"/>
<line x1="404" y1="547.6" x2="434.2" y2="547.6" stroke="#000" stroke-width="1.54"/>
<rect x="261" y="485.2" width="11.3" height="103" fill="#fff" stroke="#000" stroke-width="1.54"/>
<line x1="272.3" y1="485.2" x2="272.3" y2="588.2" stroke="#000" stroke-width="2.26"/>
<line x1="261" y1="485.2" x2="272.3" y2="485.2" stroke="#000" stroke-width="2.02"/>
<line x1="261" y1="588.2" x2="272.3" y2="588.2" stroke="#000" stroke-width="2.02"/>
<rect x="237.5" y="498.5" width="11" height="11" fill="#fff" stroke="#000" stroke-width="1.3"/>
<line x1="243" y1="498.5" x2="243" y2="509.5" stroke="#000" stroke-width="1.06"/>
<line x1="237.5" y1="504" x2="248.5" y2="504" stroke="#000" stroke-width="1.06"/>
<path d="M230.4,487.6 L230.4,496.1 A9.4,4.9 0 0 0 249.20000000000002,496.1 L249.20000000000002,487.6" fill="#fff" stroke="#000" stroke-width="1.54" />
<ellipse cx="239.8" cy="487.6" rx="9.4" ry="4.9" fill="#fff" stroke="#000" stroke-width="1.6"/>
<ellipse cx="239.8" cy="487.6" rx="7.4" ry="3.4000000000000004" fill="none" stroke="#000" stroke-width="1.2"/>
<line x1="239.8" y1="482.70000000000005" x2="239.8" y2="501.0" stroke="#000" stroke-width="1.06"/>
<path d="M230.4,492.27500000000003 A9.4,4.9 0 0 0 249.20000000000002,492.27500000000003" fill="none" stroke="#000" stroke-width="0.8"/>
<path d="M235.8,520.3 L235.8,512.3 A9.6,4.6 0 0 1 255.0,512.3 L255.0,520.3" fill="#fff" stroke="#000" stroke-width="1.54" />
<ellipse cx="245.4" cy="520.3" rx="9.6" ry="4.6" fill="#fff" stroke="#000" stroke-width="1.6"/>
<ellipse cx="245.4" cy="520.3" rx="7.6" ry="3.0999999999999996" fill="none" stroke="#000" stroke-width="1.2"/>
<line x1="245.4" y1="515.6999999999999" x2="245.4" y2="507.69999999999993" stroke="#000" stroke-width="1.06"/>
<path d="M235.8,515.9 A9.6,4.6 0 0 1 255.0,515.9" fill="none" stroke="#000" stroke-width="0.8"/>
<g transform="rotate(0 226.5 506.8)"><path d="M226.5,497.8 L236.0,497.8 A5.2,9 0 0 1 236.0,515.8 L226.5,515.8" fill="#fff" stroke="#000" stroke-width="1.5"/><ellipse cx="226.5" cy="506.8" rx="5.2" ry="9" fill="#fff" stroke="#000" stroke-width="1.6"/><ellipse cx="226.5" cy="506.8" rx="3.7" ry="7" fill="none" stroke="#000" stroke-width="1.2"/><line x1="221.3" y1="506.8" x2="236.0" y2="506.8" stroke="#000" stroke-width="0.8"/><path d="M231.725,497.8 A5.2,9 0 0 0 231.725,515.8" fill="none" stroke="#000" stroke-width="0.8"/></g>
<g transform="rotate(-8 259.9 501.9)"><path d="M259.9,492.7 L250.39999999999998,492.7 A4.9,9.2 0 0 0 250.39999999999998,511.09999999999997 L259.9,511.09999999999997" fill="#fff" stroke="#000" stroke-width="1.5"/><ellipse cx="259.9" cy="501.9" rx="4.9" ry="9.2" fill="#fff" stroke="#000" stroke-width="1.6"/><ellipse cx="259.9" cy="501.9" rx="3.4000000000000004" ry="7.199999999999999" fill="none" stroke="#000" stroke-width="1.2"/><line x1="254.99999999999997" y1="501.9" x2="250.39999999999998" y2="501.9" stroke="#000" stroke-width="0.8"/><path d="M254.67499999999998,492.7 A4.9,9.2 0 0 1 254.67499999999998,511.09999999999997" fill="none" stroke="#000" stroke-width="0.8"/></g>
<rect x="237.5" y="565.7" width="11" height="11" fill="#fff" stroke="#000" stroke-width="1.3"/>
<line x1="243" y1="565.7" x2="243" y2="576.7" stroke="#000" stroke-width="1.06"/>
<line x1="237.5" y1="571.2" x2="248.5" y2="571.2" stroke="#000" stroke-width="1.06"/>
<path d="M230.4,587.6 L230.4,579.1 A9.4,4.9 0 0 1 249.20000000000002,579.1 L249.20000000000002,587.6" fill="#fff" stroke="#000" stroke-width="1.54" />
<ellipse cx="239.8" cy="587.6" rx="9.4" ry="4.9" fill="#fff" stroke="#000" stroke-width="1.6"/>
<ellipse cx="239.8" cy="587.6" rx="7.4" ry="3.4000000000000004" fill="none" stroke="#000" stroke-width="1.2"/>
<line x1="239.8" y1="582.7" x2="239.8" y2="574.2" stroke="#000" stroke-width="1.06"/>
<path d="M230.4,582.9250000000001 A9.4,4.9 0 0 1 249.20000000000002,582.9250000000001" fill="none" stroke="#000" stroke-width="0.8"/>
<path d="M235.8,554.9 L235.8,562.9 A9.6,4.6 0 0 0 255.0,562.9 L255.0,554.9" fill="#fff" stroke="#000" stroke-width="1.54" />
<ellipse cx="245.4" cy="554.9" rx="9.6" ry="4.6" fill="#fff" stroke="#000" stroke-width="1.6"/>
<ellipse cx="245.4" cy="554.9" rx="7.6" ry="3.0999999999999996" fill="none" stroke="#000" stroke-width="1.2"/>
<line x1="245.4" y1="550.3" x2="245.4" y2="567.5" stroke="#000" stroke-width="1.06"/>
<path d="M235.8,559.3 A9.6,4.6 0 0 0 255.0,559.3" fill="none" stroke="#000" stroke-width="0.8"/>
<g transform="rotate(0 226.5 568.4)"><path d="M226.5,559.4 L236.0,559.4 A5.2,9 0 0 1 236.0,577.4 L226.5,577.4" fill="#fff" stroke="#000" stroke-width="1.5"/><ellipse cx="226.5" cy="568.4" rx="5.2" ry="9" fill="#fff" stroke="#000" stroke-width="1.6"/><ellipse cx="226.5" cy="568.4" rx="3.7" ry="7" fill="none" stroke="#000" stroke-width="1.2"/><line x1="221.3" y1="568.4" x2="236.0" y2="568.4" stroke="#000" stroke-width="0.8"/><path d="M231.725,559.4 A5.2,9 0 0 0 231.725,577.4" fill="none" stroke="#000" stroke-width="0.8"/></g>
<g transform="rotate(8 259.9 573.3)"><path d="M259.9,564.0999999999999 L250.39999999999998,564.0999999999999 A4.9,9.2 0 0 0 250.39999999999998,582.5 L259.9,582.5" fill="#fff" stroke="#000" stroke-width="1.5"/><ellipse cx="259.9" cy="573.3" rx="4.9" ry="9.2" fill="#fff" stroke="#000" stroke-width="1.6"/><ellipse cx="259.9" cy="573.3" rx="3.4000000000000004" ry="7.199999999999999" fill="none" stroke="#000" stroke-width="1.2"/><line x1="254.99999999999997" y1="573.3" x2="250.39999999999998" y2="573.3" stroke="#000" stroke-width="0.8"/><path d="M254.67499999999998,564.0999999999999 A4.9,9.2 0 0 1 254.67499999999998,582.5" fill="none" stroke="#000" stroke-width="0.8"/></g>
<line x1="272.3" y1="532" x2="356.5" y2="532" stroke="#000" stroke-width="2.98"/>
<line x1="272.3" y1="543" x2="356.5" y2="543" stroke="#000" stroke-width="2.98"/>
<rect x="258.8" y="531.1" width="2.2" height="12.4" fill="#000"/>
<rect x="256.4" y="531.1" width="3" height="1.4" fill="#000"/>
<rect x="256.4" y="542.1" width="3" height="1.4" fill="#000"/>
<line x1="261" y1="535.3" x2="272" y2="535.3" stroke="#444" stroke-width="1.3"/>
<line x1="261" y1="538.6" x2="272" y2="538.6" stroke="#444" stroke-width="1.3"/>
<rect x="236.2" y="526.2" width="19" height="22" fill="#000"/>
<rect x="240.1" y="528.1" width="11.3" height="7.5" fill="#fff"/>
<rect x="240.1" y="539.4" width="11.3" height="7.1" fill="#fff"/>
<rect x="237.3" y="529.5" width="1.3" height="1.6" fill="#fff"/>
<rect x="253" y="529.5" width="1.3" height="1.6" fill="#fff"/>
<rect x="237.3" y="533.5" width="1.3" height="1.6" fill="#fff"/>
<rect x="253" y="533.5" width="1.3" height="1.6" fill="#fff"/>
<rect x="237.3" y="540" width="1.3" height="1.6" fill="#fff"/>
<rect x="253" y="540" width="1.3" height="1.6" fill="#fff"/>
<rect x="237.3" y="544" width="1.3" height="1.6" fill="#fff"/>
<rect x="253" y="544" width="1.3" height="1.6" fill="#fff"/>
<rect x="202.3" y="528.5" width="32.6" height="3.8" fill="#000"/>
<rect x="204.6" y="529.8" width="12.6" height="1.5" fill="#fff"/>
<rect x="221.6" y="529.6" width="8.4" height="1.7" fill="#fff"/>
<rect x="231.2" y="529.5" width="1.8" height="1.8" fill="#fff"/>
<rect x="201.6" y="528.1" width="2" height="4.6" fill="#000"/>
<rect x="202.3" y="542.4" width="32.6" height="3.8" fill="#000"/>
<rect x="204.6" y="543.6999999999999" width="12.6" height="1.5" fill="#fff"/>
<rect x="221.6" y="543.5" width="8.4" height="1.7" fill="#fff"/>
<rect x="231.2" y="543.4" width="1.8" height="1.8" fill="#fff"/>
<rect x="201.6" y="542.0" width="2" height="4.6" fill="#000"/>
<line x1="219.6" y1="528.5" x2="219.6" y2="546.2" stroke="#000" stroke-width="1.78"/>
<line x1="221.6" y1="532.3" x2="221.6" y2="542.4" stroke="#000" stroke-width="1.06"/>
<line x1="234.9" y1="528.5" x2="234.9" y2="546.2" stroke="#000" stroke-width="1.54"/>
<line x1="90" y1="533" x2="234.9" y2="533" stroke="#000" stroke-width="1.54"/>
<line x1="90" y1="541.4" x2="234.9" y2="541.4" stroke="#000" stroke-width="1.54"/>
<line x1="90" y1="533.2" x2="90" y2="541.8" stroke="#000" stroke-width="1.66"/>
<line x1="92.6" y1="533.2" x2="92.6" y2="541.8" stroke="#000" stroke-width="1.18"/>
<line x1="152" y1="533.2" x2="152" y2="541.8" stroke="#000" stroke-width="1.42"/>
<line x1="154.6" y1="533.2" x2="154.6" y2="541.8" stroke="#000" stroke-width="1.18"/>
<line x1="190.6" y1="533.2" x2="190.6" y2="541.8" stroke="#000" stroke-width="1.42"/>
<line x1="193.2" y1="533.2" x2="193.2" y2="541.8" stroke="#000" stroke-width="1.18"/>
<path d="M344,530.5 L343,530.5 L343,526.2 L358,526.2 L358,548.4 L343,548.4 L343,544.5" fill="none" stroke="#000" stroke-width="1.54" />
<line x1="352" y1="526.2" x2="352" y2="530.5" stroke="#000" stroke-width="1.18"/>
<line x1="352" y1="544.5" x2="352" y2="548.4" stroke="#000" stroke-width="1.18"/>
<circle cx="350" cy="529" r="1.3" fill="none" stroke="#000" stroke-width="1.06"/>
<line x1="356.5" y1="530.5" x2="356.5" y2="544.5" stroke="#000" stroke-width="1.78"/>
<line x1="358" y1="526.8" x2="434.2" y2="526.8" stroke="#000" stroke-width="1.54"/>
<line x1="358" y1="548" x2="434.2" y2="548" stroke="#000" stroke-width="1.54"/>
<line x1="361" y1="526.8" x2="361" y2="548" stroke="#000" stroke-width="1.3"/>
<line x1="366.6" y1="526.8" x2="366.6" y2="548" stroke="#000" stroke-width="1.3"/>
<line x1="386.8" y1="526.8" x2="386.8" y2="548" stroke="#000" stroke-width="1.3"/>
<line x1="390.6" y1="526.8" x2="390.6" y2="548" stroke="#000" stroke-width="1.3"/>
<line x1="400" y1="526.8" x2="400" y2="548" stroke="#000" stroke-width="1.3"/>
<line x1="404" y1="526.8" x2="404" y2="548" stroke="#000" stroke-width="1.3"/>
<rect x="98.6" y="464.4" width="8.6" height="2.6" fill="#fff" stroke="#000" stroke-width="1.3"/>
<rect x="97.4" y="467" width="10.8" height="21" fill="#fff" stroke="#000" stroke-width="1.78"/>
<rect x="98.6" y="488" width="8.6" height="12" fill="#fff" stroke="#000" stroke-width="1.54"/>
<rect x="97.4" y="500" width="10.8" height="20.4" fill="#fff" stroke="#000" stroke-width="1.78"/>
<rect x="98.6" y="520.4" width="8.6" height="13" fill="#fff" stroke="#000" stroke-width="1.54"/>
<rect x="98.6" y="533.4" width="8.6" height="3" fill="#fff" stroke="#000" stroke-width="1.3"/>
<rect x="96.2" y="469" width="1.4" height="2" fill="#000"/>
<rect x="108" y="469" width="1.4" height="2" fill="#000"/>
<rect x="96.2" y="486" width="1.4" height="2" fill="#000"/>
<rect x="108" y="486" width="1.4" height="2" fill="#000"/>
<rect x="96.2" y="502" width="1.4" height="2" fill="#000"/>
<rect x="108" y="502" width="1.4" height="2" fill="#000"/>
<rect x="96.2" y="518" width="1.4" height="2" fill="#000"/>
<rect x="108" y="518" width="1.4" height="2" fill="#000"/>
<line x1="103.4" y1="467" x2="103.4" y2="488" stroke="#000" stroke-width="1.18"/>
<line x1="103.4" y1="500" x2="103.4" y2="520.4" stroke="#000" stroke-width="1.18"/>
<rect x="102.2" y="477" width="1" height="1" fill="#555"/>
<rect x="102.2" y="510" width="1" height="1" fill="#555"/>
<rect x="168" y="490.8" width="37.2" height="27.8" fill="#fff" stroke="#000" stroke-width="1.54"/>
<circle cx="180.8" cy="504.6" r="7.4" fill="#fff" stroke="#000" stroke-width="2.86"/>
<circle cx="180.8" cy="504.6" r="0.8" fill="#000" stroke="#000" stroke-width="0.82"/>
<rect x="188.3" y="503.70000000000005" width="1.8" height="1.8" fill="#000"/>
<rect x="185.839696961967" y="509.63969696196705" width="1.8" height="1.8" fill="#000"/>
<rect x="179.9" y="512.1" width="1.8" height="1.8" fill="#000"/>
<rect x="173.960303038033" y="509.63969696196705" width="1.8" height="1.8" fill="#000"/>
<rect x="171.5" y="503.70000000000005" width="1.8" height="1.8" fill="#000"/>
<rect x="173.960303038033" y="497.76030303803304" width="1.8" height="1.8" fill="#000"/>
<rect x="179.9" y="495.30000000000007" width="1.8" height="1.8" fill="#000"/>
<rect x="185.839696961967" y="497.76030303803304" width="1.8" height="1.8" fill="#000"/>
<rect x="199.6" y="491.40000000000003" width="5" height="19.2" fill="#000"/>
<rect x="201.4" y="498.2" width="1.6" height="1.8" fill="#fff"/>
<rect x="201.4" y="501.40000000000003" width="1.6" height="1.8" fill="#fff"/>
<rect x="168" y="554.8" width="37.2" height="27.8" fill="#fff" stroke="#000" stroke-width="1.54"/>
<circle cx="180.8" cy="568.5999999999999" r="7.4" fill="#fff" stroke="#000" stroke-width="2.86"/>
<circle cx="180.8" cy="568.5999999999999" r="0.8" fill="#000" stroke="#000" stroke-width="0.82"/>
<rect x="188.3" y="567.6999999999999" width="1.8" height="1.8" fill="#000"/>
<rect x="185.839696961967" y="573.6396969619669" width="1.8" height="1.8" fill="#000"/>
<rect x="179.9" y="576.0999999999999" width="1.8" height="1.8" fill="#000"/>
<rect x="173.960303038033" y="573.6396969619669" width="1.8" height="1.8" fill="#000"/>
<rect x="171.5" y="567.6999999999999" width="1.8" height="1.8" fill="#000"/>
<rect x="173.960303038033" y="561.7603030380329" width="1.8" height="1.8" fill="#000"/>
<rect x="179.9" y="559.3" width="1.8" height="1.8" fill="#000"/>
<rect x="185.839696961967" y="561.7603030380329" width="1.8" height="1.8" fill="#000"/>
<rect x="199.6" y="555.4" width="5" height="19.2" fill="#000"/>
<rect x="201.4" y="562.1999999999999" width="1.6" height="1.8" fill="#fff"/>
<rect x="201.4" y="565.4" width="1.6" height="1.8" fill="#fff"/>
<polygon points="184.4,578.8 188.2,594.6 184.2,594.8" fill="#000"/>
<polygon points="254.6,578.6 263.4,591.6 260.2,593.6" fill="#000"/>
<line x1="262" y1="592.6" x2="264" y2="597" stroke="#000" stroke-width="1.06"/>
<line x1="94.6" y1="332.9" x2="175.4" y2="332.9" stroke="#000" stroke-width="2.02"/>
<line x1="94.6" y1="332.9" x2="94.6" y2="424" stroke="#000" stroke-width="2.26"/>
<line x1="94.6" y1="424" x2="138.2" y2="424" stroke="#000" stroke-width="2.26"/>
<line x1="138.2" y1="347.8" x2="138.2" y2="424" stroke="#000" stroke-width="1.66"/>
<line x1="117.4" y1="332.9" x2="117.4" y2="424" stroke="#000" stroke-width="1.66"/>
<line x1="138.2" y1="347.8" x2="175.4" y2="347.8" stroke="#000" stroke-width="2.26"/>
<line x1="138.2" y1="332.9" x2="138.2" y2="347.8" stroke="#000" stroke-width="1.54"/>
<line x1="142.8" y1="332.9" x2="142.8" y2="347.8" stroke="#000" stroke-width="1.54"/>
<line x1="146.7" y1="332.9" x2="146.7" y2="347.8" stroke="#000" stroke-width="1.54"/>
<line x1="150.7" y1="332.9" x2="150.7" y2="347.8" stroke="#000" stroke-width="1.54"/>
<line x1="154.7" y1="332.9" x2="154.7" y2="347.8" stroke="#000" stroke-width="1.54"/>
<line x1="158.7" y1="332.9" x2="158.7" y2="347.8" stroke="#000" stroke-width="1.54"/>
<line x1="162.8" y1="332.9" x2="162.8" y2="347.8" stroke="#000" stroke-width="1.54"/>
<line x1="166.8" y1="332.9" x2="166.8" y2="347.8" stroke="#000" stroke-width="1.54"/>
<line x1="170.8" y1="332.9" x2="170.8" y2="347.8" stroke="#000" stroke-width="1.54"/>
<rect x="100.8" y="336.4" width="14.8" height="29" fill="#fff" stroke="#000" stroke-width="1.3"/>
<circle cx="108.2" cy="350.4" r="11.6" fill="#fff" stroke="#000" stroke-width="1.54"/>
<circle cx="108.2" cy="350.4" r="8.6" fill="none" stroke="#000" stroke-width="2.38"/>
<circle cx="107.8" cy="350.4" r="3.2" fill="#fff" stroke="#000" stroke-width="2.02"/>
<rect x="103.6" y="346.79999999999995" width="1.6" height="7.2" fill="#333"/>
<rect x="100.8" y="380.3" width="14.8" height="29" fill="#fff" stroke="#000" stroke-width="1.3"/>
<circle cx="108.2" cy="394.3" r="11.6" fill="#fff" stroke="#000" stroke-width="1.54"/>
<circle cx="108.2" cy="394.3" r="8.6" fill="none" stroke="#000" stroke-width="2.38"/>
<circle cx="107.8" cy="394.3" r="3.2" fill="#fff" stroke="#000" stroke-width="2.02"/>
<rect x="103.6" y="390.7" width="1.6" height="7.2" fill="#333"/>
<line x1="102.6" y1="347" x2="102.6" y2="396" stroke="#555" stroke-width="2.02"/>
<rect x="105.2" y="366.2" width="6.2" height="9.6" fill="#fff" stroke="#000" stroke-width="1.54"/>
<rect x="100.5" y="405.6" width="13.5" height="6.4" fill="#222"/>
<rect x="103" y="407" width="2" height="2" fill="#fff"/>
<rect x="109" y="408.5" width="2" height="2" fill="#fff"/>
<rect x="105.2" y="412" width="6.2" height="8" fill="#fff" stroke="#000" stroke-width="1.54"/>
<circle cx="278" cy="403.4" r="8.6" fill="#fff" stroke="#000" stroke-width="1.66"/>
<rect x="284.20853798974315" y="407.44747263988916" width="2" height="2" fill="#000"/>
<rect x="269.79146201025685" y="407.44747263988916" width="2" height="2" fill="#000"/>
<rect x="269.79146201025685" y="397.3525273601108" width="2" height="2" fill="#000"/>
<rect x="284.20853798974315" y="397.35252736011074" width="2" height="2" fill="#000"/>
<circle cx="278.6" cy="403.4" r="2.5" fill="#fff" stroke="#000" stroke-width="1.54"/>
<rect x="272.6" y="402.6" width="2.6" height="1.8" fill="#000"/>
<rect x="284.6" y="397" width="92.6" height="13.2" fill="#000"/>
<rect x="287" y="401.2" width="0.7" height="5.0" fill="#3a3a3a"/>
<rect x="290" y="401.7" width="0.7" height="5.0" fill="#3a3a3a"/>
<rect x="293" y="402.2" width="0.7" height="5.0" fill="#3a3a3a"/>
<rect x="296" y="401.2" width="0.7" height="5.0" fill="#3a3a3a"/>
<rect x="299" y="401.7" width="0.7" height="5.0" fill="#3a3a3a"/>
<rect x="302" y="402.2" width="0.7" height="5.0" fill="#3a3a3a"/>
<rect x="305" y="401.2" width="0.7" height="5.0" fill="#3a3a3a"/>
<rect x="308" y="401.7" width="0.7" height="5.0" fill="#3a3a3a"/>
<rect x="311" y="402.2" width="0.7" height="5.0" fill="#3a3a3a"/>
<rect x="314" y="401.2" width="0.7" height="5.0" fill="#3a3a3a"/>
<rect x="317" y="401.7" width="0.7" height="5.0" fill="#3a3a3a"/>
<rect x="320" y="402.2" width="0.7" height="5.0" fill="#3a3a3a"/>
<rect x="323" y="401.2" width="0.7" height="5.0" fill="#3a3a3a"/>
<rect x="326" y="401.7" width="0.7" height="5.0" fill="#3a3a3a"/>
<rect x="329" y="402.2" width="0.7" height="5.0" fill="#3a3a3a"/>
<rect x="332" y="401.2" width="0.7" height="5.0" fill="#3a3a3a"/>
<rect x="335" y="401.7" width="0.7" height="5.0" fill="#3a3a3a"/>
<rect x="338" y="402.2" width="0.7" height="5.0" fill="#3a3a3a"/>
<rect x="341" y="401.2" width="0.7" height="5.0" fill="#3a3a3a"/>
<rect x="344" y="401.7" width="0.7" height="5.0" fill="#3a3a3a"/>
<rect x="347" y="402.2" width="0.7" height="5.0" fill="#3a3a3a"/>
<rect x="350" y="401.2" width="0.7" height="5.0" fill="#3a3a3a"/>
<rect x="353" y="401.7" width="0.7" height="5.0" fill="#3a3a3a"/>
<rect x="356" y="402.2" width="0.7" height="5.0" fill="#3a3a3a"/>
<rect x="359" y="401.2" width="0.7" height="5.0" fill="#3a3a3a"/>
<rect x="362" y="401.7" width="0.7" height="5.0" fill="#3a3a3a"/>
<rect x="365" y="402.2" width="0.7" height="5.0" fill="#3a3a3a"/>
<rect x="368" y="401.2" width="0.7" height="5.0" fill="#3a3a3a"/>
<rect x="371" y="401.7" width="0.7" height="5.0" fill="#3a3a3a"/>
<rect x="374" y="402.2" width="0.7" height="5.0" fill="#3a3a3a"/>
<rect x="287.4" y="410" width="6" height="2.6" fill="#fff" stroke="#000" stroke-width="1.3"/>
<rect x="377" y="396.6" width="3.6" height="14.8" fill="#000"/>
<path d="M380.4,396.7 L383,391.4 L392,391.4 L392,418.3 L383,418.3 L380.4,411.3 Z" fill="#fff" stroke="#000" stroke-width="2.02" />
<line x1="385.4" y1="391.4" x2="385.4" y2="418.3" stroke="#000" stroke-width="1.18"/>
<rect x="392" y="388.8" width="18" height="31.2" fill="#111"/>
<rect x="398.3" y="390.4" width="3.7" height="13.6" fill="#fff"/>
<rect x="404" y="396" width="3.4" height="6" fill="#fff"/>
<rect x="392.8" y="394" width="1.6" height="23" fill="#fff"/>
<rect x="396.5" y="405" width="1.6" height="6" fill="#fff"/>
<rect x="398.5" y="408" width="3.4" height="1.4" fill="#fff"/>
<rect x="398.5" y="411.4" width="3.4" height="1.4" fill="#fff"/>
<rect x="398" y="415.6" width="1.6" height="1.8" fill="#fff"/>
<rect x="401" y="415.6" width="1.6" height="1.8" fill="#fff"/>
<rect x="405" y="405" width="4.4" height="6" fill="#fff"/>
<rect x="405" y="416" width="4.5" height="2.4" fill="#fff"/>
<rect x="407.6" y="397.6" width="2" height="3" fill="#fff"/>
<rect x="410" y="399.4" width="132.6" height="18.8" fill="#fff" stroke="#000" stroke-width="1.78"/>
<line x1="410" y1="390.6" x2="542.6" y2="390.6" stroke="#000" stroke-width="1.42"/>
<line x1="410" y1="394.4" x2="542.6" y2="394.4" stroke="#000" stroke-width="1.3"/>
<line x1="410" y1="397.6" x2="542.6" y2="397.6" stroke="#000" stroke-width="2.02"/>
<line x1="410" y1="390.6" x2="410" y2="420.4" stroke="#000" stroke-width="1.54"/>
<line x1="410" y1="420.4" x2="542.6" y2="420.4" stroke="#000" stroke-width="1.42"/>
<line x1="425.6" y1="399.4" x2="425.6" y2="418.2" stroke="#000" stroke-width="1.42"/>
<line x1="475.5" y1="399.4" x2="475.5" y2="418.2" stroke="#000" stroke-width="1.42"/>
<line x1="507.6" y1="399.4" x2="507.6" y2="418.2" stroke="#000" stroke-width="1.42"/>
<line x1="522.3" y1="399.4" x2="522.3" y2="418.2" stroke="#000" stroke-width="1.42"/>
<rect x="416.4" y="408.8" width="7" height="4" fill="#fff" stroke="#000" stroke-width="1.66" rx="1"/>
<rect x="416.6" y="393" width="7.4" height="3.4" fill="#fff" stroke="#000" stroke-width="1.42" rx="1.2"/>
<rect x="433.4" y="393" width="4.6" height="3.4" fill="#fff" stroke="#000" stroke-width="1.42" rx="1.2"/>
<rect x="416.8" y="420.4" width="6.2" height="3.8" fill="#fff" stroke="#000" stroke-width="1.42"/>
<circle cx="462.6" cy="404.8" r="1.9" fill="#fff" stroke="#000" stroke-width="1.42"/>
<circle cx="498.4" cy="414.2" r="2.2" fill="#fff" stroke="#000" stroke-width="1.78"/>
<rect x="511.4" y="409.4" width="5.4" height="3" fill="#fff" stroke="#000" stroke-width="1.54"/>
<rect x="511.4" y="412.8" width="5.4" height="3" fill="#fff" stroke="#000" stroke-width="1.54"/>
<rect x="511" y="386" width="6.4" height="3.6" fill="#fff" stroke="#000" stroke-width="1.42"/>
<rect x="462" y="420.4" width="5" height="2.4" fill="#fff" stroke="#000" stroke-width="1.18"/>
<rect x="439.3" y="383.4" width="13.2" height="42.4" fill="#fff" stroke="#000" stroke-width="1.66"/>
<path d="M440.3,383.4 L442.1,373 Q445.90000000000003,371 449.7,373 L451.5,383.4 Z" fill="#fff" stroke="#000" stroke-width="1.54" />
<path d="M440.3,425.8 L442.1,436.2 Q445.90000000000003,438.2 449.7,436.2 L451.5,425.8 Z" fill="#fff" stroke="#000" stroke-width="1.54" />
<rect x="441.5" y="377" width="8.8" height="6" fill="#222"/>
<rect x="442.7" y="373.2" width="6.4" height="2.2" fill="#fff"/>
<rect x="441.5" y="426.2" width="8.8" height="6" fill="#222"/>
<rect x="442.7" y="433.8" width="6.4" height="2.2" fill="#fff"/>
<rect x="482.4" y="383.4" width="13.2" height="42.4" fill="#fff" stroke="#000" stroke-width="1.66"/>
<path d="M483.4,383.4 L485.2,373 Q489.0,371 492.79999999999995,373 L494.59999999999997,383.4 Z" fill="#fff" stroke="#000" stroke-width="1.54" />
<path d="M483.4,425.8 L485.2,436.2 Q489.0,438.2 492.79999999999995,436.2 L494.59999999999997,425.8 Z" fill="#fff" stroke="#000" stroke-width="1.54" />
<rect x="484.59999999999997" y="377" width="8.8" height="6" fill="#222"/>
<rect x="485.79999999999995" y="373.2" width="6.4" height="2.2" fill="#fff"/>
<rect x="484.59999999999997" y="426.2" width="8.8" height="6" fill="#222"/>
<rect x="485.79999999999995" y="433.8" width="6.4" height="2.2" fill="#fff"/>
<rect x="542.6" y="391.6" width="10.6" height="24.6" fill="#fff" stroke="#000" stroke-width="1.66"/>
<rect x="530.4" y="398.8" width="11" height="12.8" fill="#fff" stroke="#000" stroke-width="2.02"/>
<circle cx="536.7" cy="405" r="3" fill="none" stroke="#000" stroke-width="1.54"/>
<circle cx="536.7" cy="405" r="1.3" fill="none" stroke="#000" stroke-width="1.18"/>
<line x1="539.4" y1="411.6" x2="539.4" y2="427.2" stroke="#000" stroke-width="1.54"/>
<line x1="541.6" y1="411.6" x2="541.6" y2="425.4" stroke="#000" stroke-width="1.3"/>
<line x1="539.4" y1="428" x2="579" y2="428" stroke="#000" stroke-width="1.78"/>
<line x1="541.6" y1="425.4" x2="579" y2="425.4" stroke="#000" stroke-width="1.42"/>
<rect x="546" y="424.6" width="1.6" height="4.2" fill="#000"/>
<rect x="551" y="424.6" width="1.6" height="4.2" fill="#000"/>
<rect x="556.5" y="424.6" width="1.6" height="4.2" fill="#000"/>
<rect x="561" y="424.6" width="1.6" height="4.2" fill="#000"/>
<rect x="566" y="424.6" width="1.6" height="4.2" fill="#000"/>
<rect x="569.8" y="421" width="4" height="4.2" fill="#fff" stroke="#000" stroke-width="1.3"/>
<rect x="574.6" y="421" width="4.2" height="4.2" fill="#fff" stroke="#000" stroke-width="1.3"/>
<rect x="556" y="426" width="8.4" height="4.4" fill="#fff" stroke="#000" stroke-width="1.3"/>
<line x1="555.6" y1="336.4" x2="555.6" y2="427.2" stroke="#000" stroke-width="2.26"/>
<line x1="564.3" y1="336.4" x2="564.3" y2="427.2" stroke="#000" stroke-width="1.54"/>
<line x1="555.6" y1="336.4" x2="564.3" y2="336.4" stroke="#000" stroke-width="2.02"/>
<rect x="560.6" y="343.8" width="4" height="9.4" fill="#fff" stroke="#000" stroke-width="1.54"/>
<rect x="564.6" y="342.6" width="12" height="11.6" fill="#111"/>
<circle cx="579.2" cy="341" r="1.9" fill="#111" stroke="#000" stroke-width="1.06"/>
<circle cx="579.2" cy="355.2" r="1.9" fill="#111" stroke="#000" stroke-width="1.06"/>
<rect x="576" y="342" width="8" height="12.6" fill="#111"/>
<rect x="578" y="346.2" width="2" height="1.6" fill="#fff"/>
<rect x="581.4" y="346.2" width="1.6" height="1.6" fill="#fff"/>
<rect x="565.6" y="353.6" width="1.6" height="4" fill="none" stroke="#000" stroke-width="1.06"/>
<rect x="584" y="343" width="22.5" height="3.2" fill="#000"/>
<rect x="584" y="349.8" width="22.5" height="3.6" fill="#000"/>
<rect x="593.4" y="340" width="52.4" height="15.2" fill="#0a0a0a"/>
<rect x="611.4" y="337.8" width="24.6" height="2.4" fill="#000"/>
<rect x="596" y="341.2" width="4" height="1.4" fill="#fff"/>
<rect x="602" y="341.4" width="6" height="1.6" fill="#fff"/>
<rect x="614" y="341.4" width="9" height="1.2" fill="#fff"/>
<rect x="631" y="341.4" width="11" height="1.6" fill="#fff"/>
<rect x="596" y="352.6" width="5" height="1.2" fill="#fff"/>
<rect x="604" y="352.4" width="7" height="1.4" fill="#fff"/>
<rect x="628" y="351.6" width="12" height="1.6" fill="#fff"/>
<rect x="616" y="352.4" width="6" height="1" fill="#fff"/>
<rect x="594.6" y="346.2" width="11" height="3.4" fill="#fff"/>
<path d="M606.8,345.2 L612,348.2 L606.8,351.2 Z" fill="#fff" stroke="#000" stroke-width="0.82" />
<circle cx="615" cy="348.2" r="1.2" fill="#fff" stroke="#000" stroke-width="0.94"/>
<line x1="626.7" y1="335.5" x2="626.7" y2="359.6" stroke="#000" stroke-width="2.02"/>
<rect x="619" y="344.4" width="5" height="1.2" fill="#fff"/>
<rect x="630" y="344.8" width="8" height="1" fill="#fff"/>
<rect x="636" y="348.6" width="6" height="1.2" fill="#fff"/>
<line x1="616" y1="348.2" x2="663" y2="347.4" stroke="#000" stroke-width="2.8"/>
<line x1="617" y1="348.2" x2="662" y2="347.4" stroke="#fff" stroke-width="1.1"/>
<line x1="649.8" y1="333" x2="649.8" y2="361.6" stroke="#000" stroke-width="1.9"/>
<circle cx="649.8" cy="332.8" r="1.3" fill="#000" stroke="#000" stroke-width="0.82"/>
<circle cx="649.8" cy="361.8" r="1.3" fill="#000" stroke="#000" stroke-width="0.82"/>
<rect x="663.3" y="344.5" width="7.2" height="7.3" fill="#fff" stroke="#000" stroke-width="2.02"/>
<line x1="663.3" y1="344.5" x2="670.5" y2="351.8" stroke="#000" stroke-width="1.42"/>
<line x1="670.5" y1="344.5" x2="663.3" y2="351.8" stroke="#000" stroke-width="1.42"/>
<rect x="671.3" y="342.5" width="13.1" height="11.9" fill="#000"/>
<circle cx="677.6" cy="348.5" r="4.3" fill="#000" stroke="#fff" stroke-width="1.18"/>
<circle cx="677.6" cy="348.5" r="2.2" fill="#fff" stroke="#fff" stroke-width="0.58"/>
<line x1="676.8" y1="350" x2="678.4" y2="347" stroke="#000" stroke-width="1.3"/>
<rect x="672.6" y="343.6" width="1.2" height="1.2" fill="#fff"/>
<rect x="682.2" y="343.6" width="1.2" height="1.2" fill="#fff"/>
<rect x="672.6" y="352.4" width="1.2" height="1.2" fill="#fff"/>
<rect x="682.2" y="352.4" width="1.2" height="1.2" fill="#fff"/>
<rect x="671.9" y="354.4" width="11.9" height="7.5" fill="#000"/>
<rect x="673.6" y="356" width="8.6" height="4.4" fill="#fff"/>
<rect x="676.6" y="356.6" width="2.6" height="3.2" fill="#000"/>
<rect x="677.3" y="357.4" width="1.2" height="1.5" fill="#fff"/>
<rect x="560.6" y="383.2" width="4" height="9.4" fill="#fff" stroke="#000" stroke-width="1.54"/>
<rect x="564.6" y="382.0" width="12" height="11.6" fill="#111"/>
<circle cx="579.2" cy="380.4" r="1.9" fill="#111" stroke="#000" stroke-width="1.06"/>
<circle cx="579.2" cy="394.59999999999997" r="1.9" fill="#111" stroke="#000" stroke-width="1.06"/>
<rect x="576" y="381.4" width="8" height="12.6" fill="#111"/>
<rect x="578" y="385.59999999999997" width="2" height="1.6" fill="#fff"/>
<rect x="581.4" y="385.59999999999997" width="1.6" height="1.6" fill="#fff"/>
<rect x="565.6" y="393.0" width="1.6" height="4" fill="none" stroke="#000" stroke-width="1.06"/>
<rect x="584" y="382.4" width="22.5" height="3.2" fill="#000"/>
<rect x="584" y="389.2" width="22.5" height="3.6" fill="#000"/>
<rect x="593.4" y="379.4" width="52.4" height="15.2" fill="#0a0a0a"/>
<rect x="611.4" y="377.2" width="24.6" height="2.4" fill="#000"/>
<rect x="596" y="380.59999999999997" width="4" height="1.4" fill="#fff"/>
<rect x="602" y="380.79999999999995" width="6" height="1.6" fill="#fff"/>
<rect x="614" y="380.79999999999995" width="9" height="1.2" fill="#fff"/>
<rect x="631" y="380.79999999999995" width="11" height="1.6" fill="#fff"/>
<rect x="596" y="392.0" width="5" height="1.2" fill="#fff"/>
<rect x="604" y="391.79999999999995" width="7" height="1.4" fill="#fff"/>
<rect x="628" y="391.0" width="12" height="1.6" fill="#fff"/>
<rect x="616" y="391.79999999999995" width="6" height="1" fill="#fff"/>
<rect x="594.6" y="385.59999999999997" width="11" height="3.4" fill="#fff"/>
<path d="M606.8,384.59999999999997 L612,387.59999999999997 L606.8,390.59999999999997 Z" fill="#fff" stroke="#000" stroke-width="0.82" />
<circle cx="615" cy="387.59999999999997" r="1.2" fill="#fff" stroke="#000" stroke-width="0.94"/>
<line x1="626.7" y1="374.9" x2="626.7" y2="399.0" stroke="#000" stroke-width="2.02"/>
<rect x="619" y="383.79999999999995" width="5" height="1.2" fill="#fff"/>
<rect x="630" y="384.2" width="8" height="1" fill="#fff"/>
<rect x="636" y="388.0" width="6" height="1.2" fill="#fff"/>
<line x1="616" y1="387.59999999999997" x2="663" y2="386.79999999999995" stroke="#000" stroke-width="2.8"/>
<line x1="617" y1="387.59999999999997" x2="662" y2="386.79999999999995" stroke="#fff" stroke-width="1.1"/>
<line x1="649.8" y1="372.4" x2="649.8" y2="401.0" stroke="#000" stroke-width="1.9"/>
<circle cx="649.8" cy="372.2" r="1.3" fill="#000" stroke="#000" stroke-width="0.82"/>
<circle cx="649.8" cy="401.2" r="1.3" fill="#000" stroke="#000" stroke-width="0.82"/>
<rect x="663.3" y="383.9" width="7.2" height="7.3" fill="#fff" stroke="#000" stroke-width="2.02"/>
<line x1="663.3" y1="383.9" x2="670.5" y2="391.2" stroke="#000" stroke-width="1.42"/>
<line x1="670.5" y1="383.9" x2="663.3" y2="391.2" stroke="#000" stroke-width="1.42"/>
<rect x="671.3" y="381.9" width="13.1" height="11.9" fill="#000"/>
<circle cx="677.6" cy="387.9" r="4.3" fill="#000" stroke="#fff" stroke-width="1.18"/>
<circle cx="677.6" cy="387.9" r="2.2" fill="#fff" stroke="#fff" stroke-width="0.58"/>
<line x1="676.8" y1="389.4" x2="678.4" y2="386.4" stroke="#000" stroke-width="1.3"/>
<rect x="672.6" y="383.0" width="1.2" height="1.2" fill="#fff"/>
<rect x="682.2" y="383.0" width="1.2" height="1.2" fill="#fff"/>
<rect x="672.6" y="391.79999999999995" width="1.2" height="1.2" fill="#fff"/>
<rect x="682.2" y="391.79999999999995" width="1.2" height="1.2" fill="#fff"/>
<rect x="671.9" y="393.79999999999995" width="11.9" height="7.5" fill="#000"/>
<rect x="673.6" y="395.4" width="8.6" height="4.4" fill="#fff"/>
<rect x="676.6" y="396.0" width="2.6" height="3.2" fill="#000"/>
<rect x="677.3" y="396.79999999999995" width="1.2" height="1.5" fill="#fff"/>
</g>
<g id="labels">
<text x="122.5" y="61.5" textLength="51.5" lengthAdjust="spacing" font-size="12.6">操作平台</text>
<line x1="122.0" y1="63.5" x2="174.5" y2="63.5" stroke="#222" stroke-width="0.9"/>
<line x1="122.0" y1="63.5" x2="117.5" y2="103.3" stroke="#222" stroke-width="0.8"/>
<polygon points="117.5,103.3 116.8,87.1 121.8,87.7" fill="#000"/>
<text x="189.5" y="61.5" textLength="58.0" lengthAdjust="spacing" font-size="12.6">Z型提升机</text>
<line x1="189.0" y1="63.5" x2="248.0" y2="63.5" stroke="#222" stroke-width="0.9"/>
<line x1="189.0" y1="63.5" x2="188.4" y2="100.6" stroke="#222" stroke-width="0.8"/>
<polygon points="188.4,100.6 186.2,84.6 191.2,84.6" fill="#000"/>
<text x="273.5" y="33.0" textLength="38.0" lengthAdjust="spacing" font-size="12.6">高输送</text>
<line x1="273.0" y1="35" x2="312.0" y2="35" stroke="#222" stroke-width="0.9"/>
<line x1="273.0" y1="35" x2="228.3" y2="101.7" stroke="#222" stroke-width="0.8"/>
<polygon points="228.3,101.7 235.1,87.0 239.3,89.8" fill="#000"/>
<text x="270.5" y="62.5" textLength="52.0" lengthAdjust="spacing" font-size="12.6">称重料仓</text>
<line x1="270.0" y1="64.5" x2="323.0" y2="64.5" stroke="#222" stroke-width="0.9"/>
<line x1="270.0" y1="64.5" x2="246.7" y2="105" stroke="#222" stroke-width="0.8"/>
<polygon points="246.7,105.0 252.5,89.9 256.8,92.4" fill="#000"/>
<text x="330.5" y="62.5" textLength="38.5" lengthAdjust="spacing" font-size="12.6">储料罐</text>
<line x1="330.0" y1="64.5" x2="369.5" y2="64.5" stroke="#222" stroke-width="0.9"/>
<line x1="330.0" y1="64.5" x2="282" y2="117.3" stroke="#222" stroke-width="0.8"/>
<polygon points="282.0,117.3 290.9,103.8 294.6,107.1" fill="#000"/>
<text x="385.5" y="62.5" textLength="72.5" lengthAdjust="spacing" font-size="12.6">6米冷却输送</text>
<line x1="385.0" y1="64.5" x2="458.5" y2="64.5" stroke="#222" stroke-width="0.9"/>
<line x1="385.0" y1="64.5" x2="324" y2="118.7" stroke="#222" stroke-width="0.8"/>
<polygon points="324.0,118.7 334.3,106.2 337.6,109.9" fill="#000"/>
<text x="558" y="62.0" textLength="53" lengthAdjust="spacing" font-size="12.6">单层烤箱</text>
<line x1="557.5" y1="64" x2="611.5" y2="64" stroke="#222" stroke-width="0.9"/>
<line x1="557.5" y1="64" x2="512.5" y2="135" stroke="#222" stroke-width="0.8"/>
<polygon points="512.5,135.0 519.0,120.1 523.2,122.8" fill="#000"/>
<text x="58.5" y="214.3" textLength="39.0" lengthAdjust="spacing" font-size="12.6">保温管</text>
<line x1="58.0" y1="216.3" x2="98.0" y2="216.3" stroke="#222" stroke-width="0.9"/>
<line x1="98.0" y1="216.3" x2="103.4" y2="150" stroke="#222" stroke-width="0.8"/>
<polygon points="103.4,150.0 104.6,166.2 99.6,165.7" fill="#000"/>
<text x="122.5" y="215.8" textLength="52.0" lengthAdjust="spacing" font-size="12.6">预备方仓</text>
<line x1="122.0" y1="217.8" x2="175.0" y2="217.8" stroke="#222" stroke-width="0.9"/>
<line x1="175.0" y1="217.8" x2="210.5" y2="126.5" stroke="#222" stroke-width="0.8"/>
<polygon points="210.5,126.5 205.2,147.0 200.6,145.2" fill="#000"/>
<text x="293.5" y="214.0" textLength="65.5" lengthAdjust="spacing" font-size="12.6">皮带输送机</text>
<line x1="293.0" y1="216" x2="359.5" y2="216" stroke="#222" stroke-width="0.9"/>
<line x1="293.0" y1="216" x2="279.2" y2="136.5" stroke="#222" stroke-width="0.8"/>
<polygon points="279.2,136.5 284.7,153.8 279.8,154.7" fill="#000"/>
<text x="374.5" y="214.0" textLength="63.5" lengthAdjust="spacing" font-size="12.6">皮带提升机</text>
<line x1="374.0" y1="216" x2="438.5" y2="216" stroke="#222" stroke-width="0.9"/>
<line x1="374.0" y1="216" x2="321.4" y2="139.2" stroke="#222" stroke-width="0.8"/>
<polygon points="321.4,139.2 332.5,151.0 328.4,153.8" fill="#000"/>
<text x="982" y="216.4" textLength="38" lengthAdjust="spacing" font-size="12.6">混合机</text>
<line x1="981.5" y1="218.4" x2="1020.5" y2="218.4" stroke="#222" stroke-width="0.9"/>
<line x1="1020.5" y1="218.4" x2="1123.8" y2="246.3" stroke="#222" stroke-width="0.8"/>
<polygon points="1123.8,246.3 1105.8,244.0 1107.1,239.2" fill="#000"/>
<text x="982" y="252.3" textLength="38" lengthAdjust="spacing" font-size="12.6">混合机</text>
<line x1="981.5" y1="254.3" x2="1020.5" y2="254.3" stroke="#222" stroke-width="0.9"/>
<line x1="1020.5" y1="254.3" x2="1123.8" y2="289.3" stroke="#222" stroke-width="0.8"/>
<polygon points="1123.8,289.3 1105.9,285.9 1107.6,281.2" fill="#000"/>
<text x="982" y="302.5" textLength="38" lengthAdjust="spacing" font-size="12.6">旋振筛</text>
<line x1="981.5" y1="304.5" x2="1020.5" y2="304.5" stroke="#222" stroke-width="0.9"/>
<line x1="1020.5" y1="304.5" x2="1086" y2="322.5" stroke="#222" stroke-width="0.8"/>
<polygon points="1086.0,322.5 1069.9,320.7 1071.2,315.8" fill="#000"/>
<text x="965.7" y="374.0" textLength="78.09999999999991" lengthAdjust="spacing" font-size="12.6">14米冷却输送</text>
<line x1="965.2" y1="376" x2="1044.3" y2="376" stroke="#222" stroke-width="0.9"/>
<line x1="1044.3" y1="376" x2="1082.6" y2="420.4" stroke="#222" stroke-width="0.8"/>
<polygon points="1082.6,420.4 1070.3,409.9 1074.0,406.7" fill="#000"/>
<text x="961" y="445.6" textLength="102.5" lengthAdjust="spacing" font-size="12.6">网带输送（90°）</text>
<line x1="960.5" y1="447.6" x2="1064.0" y2="447.6" stroke="#222" stroke-width="0.9"/>
<line x1="1064.0" y1="447.6" x2="1078.2" y2="525.3" stroke="#222" stroke-width="0.8"/>
<polygon points="1078.2,525.3 1072.7,509.0 1077.6,508.1" fill="#000"/>
<text x="963.3" y="479.4" textLength="71.40000000000009" lengthAdjust="spacing" font-size="12.6">2米冷却输送</text>
<line x1="962.8" y1="481.4" x2="1035.2" y2="481.4" stroke="#222" stroke-width="0.9"/>
<line x1="1035.2" y1="481.4" x2="1042.7" y2="536" stroke="#222" stroke-width="0.8"/>
<polygon points="1042.7,536.0 1037.9,519.5 1042.9,518.8" fill="#000"/>
<text x="153" y="309.4" textLength="37.80000000000001" lengthAdjust="spacing" font-size="12.6">熬糖锅</text>
<line x1="152.5" y1="311.4" x2="191.3" y2="311.4" stroke="#222" stroke-width="0.9"/>
<line x1="152.5" y1="311.4" x2="119" y2="345.6" stroke="#222" stroke-width="0.8"/>
<polygon points="119.0,345.6 128.4,332.4 132.0,335.9" fill="#000"/>
<text x="153" y="426.1" textLength="37.80000000000001" lengthAdjust="spacing" font-size="12.6">熬糖锅</text>
<line x1="152.5" y1="428.1" x2="191.3" y2="428.1" stroke="#222" stroke-width="0.9"/>
<line x1="152.5" y1="428.1" x2="119.5" y2="401.2" stroke="#222" stroke-width="0.8"/>
<polygon points="119.5,401.2 133.5,409.4 130.3,413.2" fill="#000"/>
<text x="139.3" y="456.1" textLength="38.0" lengthAdjust="spacing" font-size="12.6">混合机</text>
<line x1="138.8" y1="458.1" x2="177.8" y2="458.1" stroke="#222" stroke-width="0.9"/>
<line x1="138.8" y1="458.1" x2="109.3" y2="481.3" stroke="#222" stroke-width="0.8"/>
<polygon points="109.3,481.3 120.3,469.4 123.4,473.4" fill="#000"/>
<text x="139.3" y="481.6" textLength="38.0" lengthAdjust="spacing" font-size="12.6">混合机</text>
<line x1="138.8" y1="483.6" x2="177.8" y2="483.6" stroke="#222" stroke-width="0.9"/>
<line x1="138.8" y1="483.6" x2="109.3" y2="513.3" stroke="#222" stroke-width="0.8"/>
<polygon points="109.3,513.3 118.8,500.2 122.3,503.7" fill="#000"/>
<text x="212.5" y="456.1" textLength="64.5" lengthAdjust="spacing" font-size="12.6">300L搅拌罐</text>
<line x1="212.0" y1="458.1" x2="277.5" y2="458.1" stroke="#222" stroke-width="0.9"/>
<line x1="212.0" y1="458.1" x2="186.7" y2="500" stroke="#222" stroke-width="0.8"/>
<polygon points="186.7,500.0 192.8,485.0 197.1,487.6" fill="#000"/>
<text x="292" y="456.1" textLength="58.69999999999999" lengthAdjust="spacing" font-size="12.6">4头八角桶</text>
<line x1="291.5" y1="458.1" x2="351.2" y2="458.1" stroke="#222" stroke-width="0.9"/>
<line x1="291.5" y1="458.1" x2="254.7" y2="494.7" stroke="#222" stroke-width="0.8"/>
<polygon points="254.7,494.7 262.2,483.8 265.7,487.3" fill="#000"/>
<text x="397.7" y="311.7" textLength="65.0" lengthAdjust="spacing" font-size="12.6">8米5层烤箱</text>
<line x1="397.2" y1="313.7" x2="463.2" y2="313.7" stroke="#222" stroke-width="0.9"/>
<line x1="463.2" y1="313.7" x2="481.7" y2="396" stroke="#222" stroke-width="0.8"/>
<polygon points="481.7,396.0 475.8,380.9 480.6,379.8" fill="#000"/>
<text x="485.2" y="311.7" textLength="64.09999999999997" lengthAdjust="spacing" font-size="12.6">皮带输送机</text>
<line x1="484.7" y1="313.7" x2="549.8" y2="313.7" stroke="#222" stroke-width="0.9"/>
<line x1="549.8" y1="313.7" x2="558.8" y2="350.4" stroke="#222" stroke-width="0.8"/>
<polygon points="558.8,350.4 552.3,334.5 557.2,333.3" fill="#000"/>
<text x="485.2" y="281.4" textLength="77.09999999999997" lengthAdjust="spacing" font-size="12.6">61.5膨化主机</text>
<line x1="484.7" y1="283.4" x2="562.8" y2="283.4" stroke="#222" stroke-width="0.9"/>
<line x1="562.8" y1="283.4" x2="587.3" y2="340.8" stroke="#222" stroke-width="0.8"/>
<polygon points="587.3,340.8 578.7,327.1 583.3,325.1" fill="#000"/>
<text x="721.5" y="262.8" textLength="38.200000000000045" lengthAdjust="spacing" font-size="12.6">振动筛</text>
<line x1="721.0" y1="264.8" x2="760.2" y2="264.8" stroke="#222" stroke-width="0.9"/>
<line x1="721.0" y1="264.8" x2="636" y2="337.8" stroke="#222" stroke-width="0.8"/>
<polygon points="636.0,337.8 646.5,325.5 649.8,329.3" fill="#000"/>
<text x="718" y="289.2" textLength="51.200000000000045" lengthAdjust="spacing" font-size="12.6">螺旋输送</text>
<line x1="717.5" y1="291.2" x2="769.7" y2="291.2" stroke="#222" stroke-width="0.9"/>
<line x1="717.5" y1="291.2" x2="657" y2="346" stroke="#222" stroke-width="0.8"/>
<polygon points="657.0,346.0 667.2,333.4 670.5,337.1" fill="#000"/>
<text x="718" y="311.7" textLength="38.200000000000045" lengthAdjust="spacing" font-size="12.6">大拌粉</text>
<line x1="717.5" y1="313.7" x2="756.7" y2="313.7" stroke="#222" stroke-width="0.9"/>
<line x1="717.5" y1="313.7" x2="684" y2="347.5" stroke="#222" stroke-width="0.8"/>
<polygon points="684.0,347.5 693.5,334.4 697.0,337.9" fill="#000"/>
<text x="718" y="359.4" textLength="38.200000000000045" lengthAdjust="spacing" font-size="12.6">大拌粉</text>
<line x1="717.5" y1="361.4" x2="756.7" y2="361.4" stroke="#222" stroke-width="0.9"/>
<line x1="717.5" y1="361.4" x2="684" y2="385.8" stroke="#222" stroke-width="0.8"/>
<polygon points="684.0,385.8 695.5,374.4 698.4,378.4" fill="#000"/>
<text x="712.8" y="446.2" textLength="52.200000000000045" lengthAdjust="spacing" font-size="12.6">螺旋输送</text>
<line x1="712.3" y1="448.2" x2="765.5" y2="448.2" stroke="#222" stroke-width="0.9"/>
<line x1="712.3" y1="448.2" x2="651.7" y2="389.5" stroke="#222" stroke-width="0.8"/>
<polygon points="651.7,389.5 664.9,398.8 661.5,402.4" fill="#000"/>
<text x="718" y="475.6" textLength="38.200000000000045" lengthAdjust="spacing" font-size="12.6">振动筛</text>
<line x1="717.5" y1="477.6" x2="756.7" y2="477.6" stroke="#222" stroke-width="0.9"/>
<line x1="717.5" y1="477.6" x2="636" y2="393.3" stroke="#222" stroke-width="0.8"/>
<polygon points="636.0,393.3 648.9,403.1 645.3,406.5" fill="#000"/>
<text x="510.3" y="464.5" textLength="24.69999999999999" lengthAdjust="spacing" font-size="12.6">风送</text>
<line x1="509.8" y1="466.5" x2="535.5" y2="466.5" stroke="#222" stroke-width="0.9"/>
<line x1="535.5" y1="466.5" x2="559.7" y2="430.6" stroke="#222" stroke-width="0.8"/>
<polygon points="559.7,430.6 552.8,445.3 548.7,442.5" fill="#000"/>
<text x="493.9" y="492.2" textLength="77.10000000000002" lengthAdjust="spacing" font-size="12.6">61.5膨化主机</text>
<line x1="493.4" y1="494.2" x2="571.5" y2="494.2" stroke="#222" stroke-width="0.9"/>
<line x1="571.5" y1="494.2" x2="591" y2="391.8" stroke="#222" stroke-width="0.8"/>
<polygon points="591.0,391.8 590.5,408.0 585.6,407.0" fill="#000"/>
</g>
<g id="wm-over" transform="scale(1.14,1)" style="mix-blend-mode:screen"><text class="wm" x="286.1" y="408" dx="0 -18.2" style="fill:#4a1408">CY</text></g>
</svg>
<div id="frame"></div>
</body></html>
